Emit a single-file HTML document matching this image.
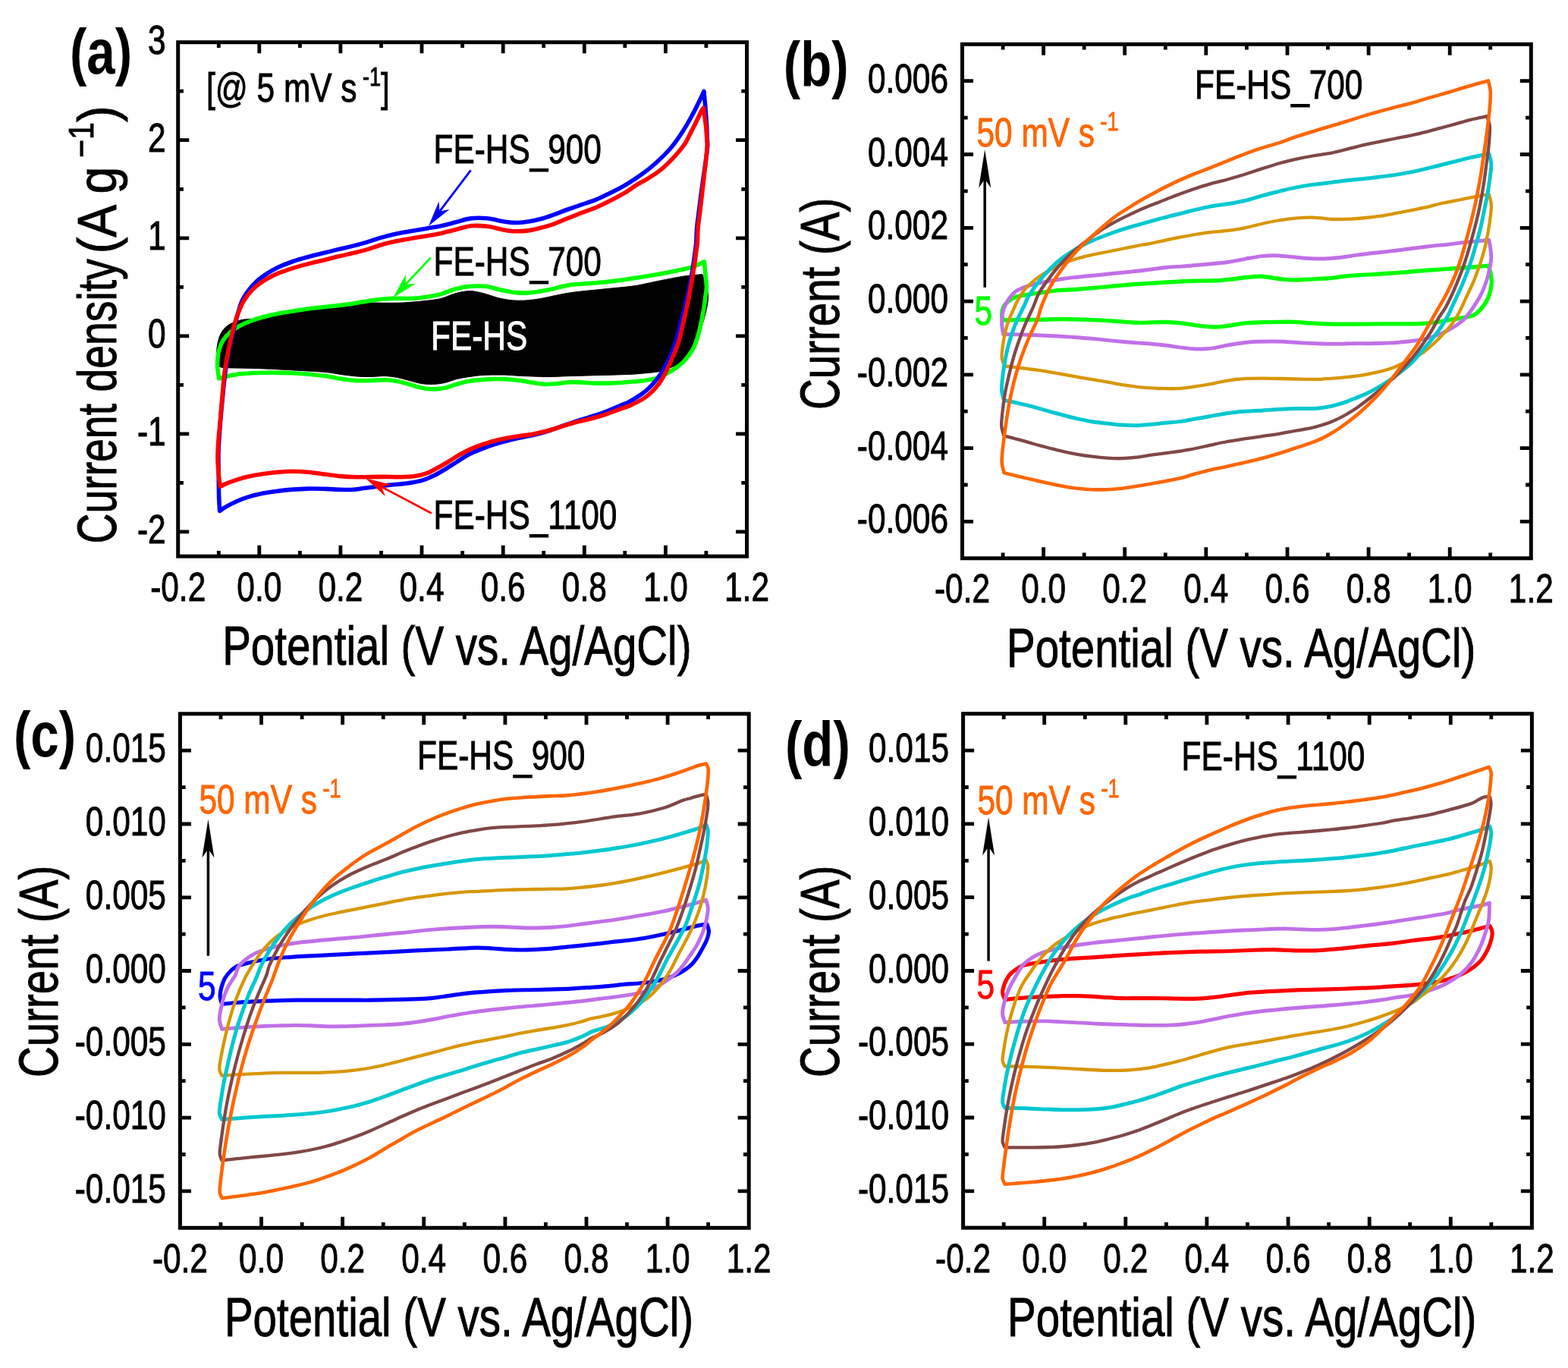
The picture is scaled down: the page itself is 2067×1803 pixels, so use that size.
<!DOCTYPE html>
<html><head><meta charset="utf-8"><title>CV curves</title>
<style>html,body{margin:0;padding:0;background:#fff}svg{display:block}text{font-family:'Liberation Sans', Arial, sans-serif}</style>
</head><body>
<svg xmlns="http://www.w3.org/2000/svg" width="2067" height="1803" viewBox="0 0 2067 1803">
<rect width="2067" height="1803" fill="#fff"/>
<rect x="234.7" y="55.7" width="749.8" height="677.5" fill="none" stroke="#000" stroke-width="5"/>
<path d="M341.8 733.2v-14.5M341.8 55.7v14.5M448.9 733.2v-14.5M448.9 55.7v14.5M556.0 733.2v-14.5M556.0 55.7v14.5M663.2 733.2v-14.5M663.2 55.7v14.5M770.3 733.2v-14.5M770.3 55.7v14.5M877.4 733.2v-14.5M877.4 55.7v14.5M288.3 733.2v-7.2M288.3 55.7v7.2M395.4 733.2v-7.2M395.4 55.7v7.2M502.5 733.2v-7.2M502.5 55.7v7.2M609.6 733.2v-7.2M609.6 55.7v7.2M716.7 733.2v-7.2M716.7 55.7v7.2M823.8 733.2v-7.2M823.8 55.7v7.2M930.9 733.2v-7.2M930.9 55.7v7.2M234.7 184.7h14.5M984.5 184.7h-14.5M234.7 313.8h14.5M984.5 313.8h-14.5M234.7 442.8h14.5M984.5 442.8h-14.5M234.7 571.9h14.5M984.5 571.9h-14.5M234.7 700.9h14.5M984.5 700.9h-14.5M234.7 120.2h7.2M984.5 120.2h-7.2M234.7 249.3h7.2M984.5 249.3h-7.2M234.7 378.3h7.2M984.5 378.3h-7.2M234.7 507.4h7.2M984.5 507.4h-7.2M234.7 636.4h7.2M984.5 636.4h-7.2" stroke="#000" stroke-width="4.8" fill="none"/>
<text transform="translate(234.7 791.7) scale(0.7880 1)" font-size="53.8" text-anchor="middle" fill="#000" stroke="#000" stroke-width="0.90" vector-effect="non-scaling-stroke">-0.2</text>
<text transform="translate(341.8 791.7) scale(0.7880 1)" font-size="53.8" text-anchor="middle" fill="#000" stroke="#000" stroke-width="0.90" vector-effect="non-scaling-stroke">0.0</text>
<text transform="translate(448.9 791.7) scale(0.7880 1)" font-size="53.8" text-anchor="middle" fill="#000" stroke="#000" stroke-width="0.90" vector-effect="non-scaling-stroke">0.2</text>
<text transform="translate(556.0 791.7) scale(0.7880 1)" font-size="53.8" text-anchor="middle" fill="#000" stroke="#000" stroke-width="0.90" vector-effect="non-scaling-stroke">0.4</text>
<text transform="translate(663.2 791.7) scale(0.7880 1)" font-size="53.8" text-anchor="middle" fill="#000" stroke="#000" stroke-width="0.90" vector-effect="non-scaling-stroke">0.6</text>
<text transform="translate(770.3 791.7) scale(0.7880 1)" font-size="53.8" text-anchor="middle" fill="#000" stroke="#000" stroke-width="0.90" vector-effect="non-scaling-stroke">0.8</text>
<text transform="translate(877.4 791.7) scale(0.7880 1)" font-size="53.8" text-anchor="middle" fill="#000" stroke="#000" stroke-width="0.90" vector-effect="non-scaling-stroke">1.0</text>
<text transform="translate(984.5 791.7) scale(0.7880 1)" font-size="53.8" text-anchor="middle" fill="#000" stroke="#000" stroke-width="0.90" vector-effect="non-scaling-stroke">1.2</text>
<text transform="translate(218.7 199.7) scale(0.7880 1)" font-size="53.8" text-anchor="end" fill="#000" stroke="#000" stroke-width="0.90" vector-effect="non-scaling-stroke">2</text>
<text transform="translate(218.7 328.8) scale(0.7880 1)" font-size="53.8" text-anchor="end" fill="#000" stroke="#000" stroke-width="0.90" vector-effect="non-scaling-stroke">1</text>
<text transform="translate(218.7 457.8) scale(0.7880 1)" font-size="53.8" text-anchor="end" fill="#000" stroke="#000" stroke-width="0.90" vector-effect="non-scaling-stroke">0</text>
<text transform="translate(218.7 586.9) scale(0.7880 1)" font-size="53.8" text-anchor="end" fill="#000" stroke="#000" stroke-width="0.90" vector-effect="non-scaling-stroke">-1</text>
<text transform="translate(218.7 715.9) scale(0.7880 1)" font-size="53.8" text-anchor="end" fill="#000" stroke="#000" stroke-width="0.90" vector-effect="non-scaling-stroke">-2</text>
<text transform="translate(293.2 876.0) scale(0.7790 1)" font-size="72.5" text-anchor="start" fill="#000" stroke="#000" stroke-width="0.90" vector-effect="non-scaling-stroke">Potential (V vs. Ag/AgCl)</text>
<text transform="translate(92.0 97.3) scale(0.8000 1)" font-size="84.0" text-anchor="start" fill="#000" font-weight="bold">(a)</text>
<text transform="translate(218.7 70.7) scale(0.7880 1)" font-size="53.8" text-anchor="end" fill="#000" stroke="#000" stroke-width="0.90" vector-effect="non-scaling-stroke">3</text>
<path d="M288.0 482.2C288.0 482.2 286.4 476.4 286.1 473.4C285.7 470.0 285.3 465.6 285.7 461.7C286.1 457.2 287.1 450.7 288.6 446.1C289.9 441.9 291.8 437.6 294.5 434.4C297.1 431.1 300.6 428.5 304.2 426.6C308.1 424.4 313.3 422.7 317.9 421.7C322.4 420.7 327.0 420.7 331.6 420.3C336.4 419.9 342.0 420.1 347.2 419.3C353.0 418.4 360.2 416.1 366.7 414.8C373.2 413.5 379.7 412.6 386.2 411.5C392.8 410.5 399.3 409.5 405.8 408.6C412.3 407.7 418.8 407.0 425.3 406.2C431.8 405.5 438.3 405.0 444.8 404.3C451.4 403.5 457.9 402.6 464.4 401.8C470.9 400.9 477.4 399.6 483.9 399.2C490.4 398.8 496.9 399.2 503.4 399.2C509.9 399.2 516.5 399.4 523.0 399.2C529.5 399.1 536.0 398.7 542.5 398.2C549.0 397.8 555.5 397.1 562.0 396.3C568.5 395.5 575.2 395.0 581.6 393.4C588.1 391.7 594.6 388.2 601.1 386.5C607.5 384.9 614.0 383.4 620.6 383.6C627.4 383.8 635.9 386.4 641.7 387.9C646.4 389.0 650.8 391.1 655.4 392.3C659.9 393.5 664.5 394.4 669.1 395.1C673.6 395.7 678.2 396.2 682.7 396.2C687.3 396.3 691.9 396.1 696.4 395.7C701.3 395.2 706.9 394.6 712.0 393.7C717.2 392.8 722.4 391.5 727.7 390.4C733.5 389.2 740.7 387.6 747.2 386.5C753.7 385.4 760.2 384.7 766.7 383.9C773.2 383.2 779.7 382.6 786.2 382.0C792.8 381.3 799.3 380.7 805.8 380.0C812.3 379.4 819.6 378.7 825.3 378.1C830.2 377.5 835.1 377.1 839.9 376.2C847.5 374.8 860.7 371.7 871.2 369.7C881.6 367.6 893.4 365.3 902.5 363.9C910.3 362.8 925.9 361.6 925.9 361.6C925.9 361.6 928.7 368.8 929.8 372.5C931.0 376.3 932.4 380.3 933.0 384.2C933.5 388.1 933.7 392.0 933.3 395.9C932.9 400.4 931.6 406.2 930.5 411.3C929.3 416.4 927.7 421.5 926.3 426.6C924.5 432.9 921.7 443.8 919.9 449.1C918.7 452.5 917.2 455.7 915.2 458.6C912.4 462.5 907.3 468.5 903.4 472.3C899.9 475.6 895.6 478.8 891.7 481.1C888.1 483.2 883.9 484.5 880.0 485.9C876.1 487.4 872.3 489.1 868.3 489.8C862.4 490.9 851.2 491.8 844.8 492.4C839.9 492.8 834.9 493.2 829.9 493.4C819.4 493.8 796.1 494.4 781.5 494.8C768.5 495.2 752.2 495.6 742.5 495.9C736.0 496.1 729.5 496.5 723.0 496.6C716.5 496.6 709.9 496.3 703.4 496.1C696.9 495.9 690.4 495.6 683.9 495.3C677.4 495.0 670.2 494.3 664.4 494.1C659.2 494.0 654.0 494.0 648.8 494.1C643.5 494.2 638.3 494.3 633.1 494.7C627.9 495.1 622.7 495.9 617.5 496.7C612.3 497.5 607.0 498.3 601.9 499.6C596.7 500.9 591.5 503.4 586.2 504.5C581.1 505.6 575.8 506.3 570.6 506.4C565.4 506.6 560.2 506.3 555.0 505.5C549.8 504.6 544.6 502.8 539.4 501.5C534.2 500.2 529.0 498.6 523.8 497.6C518.6 496.6 513.4 495.8 508.1 495.6C502.3 495.4 495.1 496.5 488.6 496.5C482.1 496.6 475.6 496.4 469.1 495.9C462.6 495.4 456.0 494.4 449.5 493.6C443.0 492.7 436.6 491.2 430.0 490.6C419.5 489.7 400.1 488.7 386.2 487.9C373.2 487.2 360.2 486.4 347.2 485.9C334.2 485.4 317.2 485.2 308.1 485.0C302.9 484.8 295.9 484.8 292.5 484.4C290.9 484.2 288.0 482.2 288.0 482.2Z" fill="#000" stroke="#000" stroke-width="1"/>
<path d="M288.6 498.8C288.6 498.8 287.4 490.7 287.0 487.1C286.7 483.9 286.4 480.6 286.6 477.3C286.9 473.1 287.3 466.6 288.6 461.7C289.9 456.9 291.8 452.1 294.5 448.0C297.1 444.0 300.6 440.4 304.2 437.3C307.8 434.2 311.8 431.7 315.9 429.5C320.5 427.1 326.4 424.6 331.6 422.7C336.7 420.7 341.9 419.2 347.2 417.8C353.0 416.2 360.2 414.6 366.7 413.3C373.2 412.0 379.7 411.0 386.2 410.0C392.8 408.9 399.3 407.9 405.8 407.0C412.3 406.2 418.8 405.4 425.3 404.7C431.8 404.0 438.3 403.5 444.8 402.7C451.4 402.0 457.9 401.2 464.4 400.2C470.9 399.2 477.4 397.9 483.9 396.9C490.4 395.9 497.6 394.9 503.4 394.3C508.6 393.8 513.8 393.5 519.1 393.4C525.6 393.2 535.3 393.7 542.5 393.4C549.0 393.1 555.6 392.4 562.0 391.4C568.5 390.4 575.2 389.3 581.6 387.5C588.1 385.7 594.6 382.4 601.1 380.7C607.5 379.0 614.0 377.9 620.6 377.3C627.4 376.8 635.9 376.9 641.7 377.5C646.4 378.0 650.8 379.9 655.4 381.0C659.9 382.1 664.5 383.1 669.1 383.9C673.6 384.8 678.2 385.6 682.7 385.9C687.3 386.2 691.9 386.2 696.4 385.9C701.3 385.6 706.8 384.8 712.0 383.9C717.2 383.1 723.1 382.0 727.7 381.0C731.6 380.2 735.5 379.0 739.4 378.1C743.3 377.2 747.1 376.1 751.1 375.5C755.7 374.9 761.5 374.6 766.7 374.2C772.6 373.7 779.7 373.4 786.2 372.8C792.8 372.3 799.3 371.6 805.8 370.9C812.3 370.1 819.6 369.1 825.3 368.3C830.2 367.6 835.0 366.9 839.8 366.1C844.8 365.4 850.2 364.5 855.5 363.6C860.7 362.7 865.9 361.8 871.1 360.8C876.4 359.9 881.6 358.8 886.8 357.8C892.1 356.7 898.6 355.4 902.5 354.5C905.1 353.9 907.7 353.3 910.3 352.6C912.9 351.8 915.6 350.9 918.1 349.8C921.1 348.5 928.3 344.8 928.3 344.8C928.3 344.8 929.1 352.9 929.5 356.9C929.8 360.8 930.3 364.9 930.6 368.6C930.9 372.0 931.5 375.5 931.4 378.8C931.3 381.9 930.7 385.0 930.3 388.1C929.8 392.3 929.1 398.7 928.3 403.9C927.5 409.2 926.4 414.5 925.4 419.8C924.3 425.1 923.3 430.5 922.0 435.7C920.7 440.8 919.0 446.6 917.5 450.8C916.4 454.1 915.0 457.5 913.2 460.5C910.9 464.5 906.7 470.5 903.4 474.2C900.6 477.5 896.9 480.5 893.7 483.0C890.6 485.4 887.2 487.5 883.9 489.5C880.7 491.4 877.4 493.2 874.1 494.7C871.0 496.2 867.8 497.8 864.4 498.6C859.5 499.9 850.6 501.4 844.8 502.1C839.9 502.8 834.1 502.9 830.0 503.2C826.9 503.4 823.8 503.9 820.7 504.2C815.9 504.5 807.6 504.9 801.1 505.1C794.6 505.2 787.5 505.2 781.6 505.0C776.4 504.8 771.2 504.1 766.0 503.9C760.8 503.7 755.5 503.5 750.3 503.8C745.1 504.1 739.9 505.2 734.7 505.6C729.5 506.1 724.3 506.7 719.1 506.5C713.9 506.3 708.6 505.3 703.4 504.5C697.6 503.6 690.4 502.0 683.9 501.2C677.4 500.4 670.2 499.9 664.4 499.6C659.2 499.4 654.0 499.4 648.8 499.6C643.5 499.8 638.3 500.1 633.1 500.6C627.9 501.1 622.7 501.6 617.5 502.5C612.3 503.5 607.0 505.0 601.9 506.4C596.7 507.9 591.5 510.3 586.2 511.3C581.1 512.4 575.8 513.0 570.6 512.9C565.4 512.8 560.1 512.0 555.0 510.9C549.8 509.9 544.6 507.9 539.4 506.5C534.2 505.1 529.0 503.5 523.7 502.6C518.6 501.6 513.4 500.8 508.1 500.6C502.3 500.5 495.1 501.4 488.6 501.6C482.1 501.8 475.6 502.0 469.1 501.6C462.5 501.2 456.0 500.3 449.5 499.3C443.0 498.3 436.6 496.5 430.0 495.8C419.4 494.5 400.1 492.6 386.2 491.8C373.2 491.1 358.6 491.0 347.2 491.2C337.4 491.4 325.7 492.0 317.9 492.8C312.0 493.3 305.2 494.7 300.3 495.7C296.4 496.5 288.6 498.8 288.6 498.8Z" fill="none" stroke="#00ff00" stroke-width="5.6" stroke-linejoin="round"/>
<path d="M289.6 673.4C289.6 673.4 288.8 660.4 288.6 653.9C288.4 645.8 288.3 634.4 288.2 624.6C288.1 614.8 287.7 605.1 288.0 595.3C288.4 583.9 289.5 569.3 290.5 556.2C291.6 543.2 292.9 528.6 294.1 517.2C295.0 507.4 296.1 497.0 297.4 487.9C298.5 479.4 299.8 470.9 301.5 462.5C303.4 452.9 306.4 441.0 309.1 430.5C311.8 420.0 314.8 407.2 317.9 399.2C320.2 393.2 324.1 387.5 327.7 382.6C331.1 378.0 335.5 373.5 339.4 369.9C343.0 366.6 347.0 363.8 351.1 361.1C355.7 358.2 361.3 354.9 366.7 352.3C372.6 349.6 379.7 346.8 386.2 344.5C392.7 342.3 399.3 340.5 405.8 338.7C412.3 336.9 418.8 335.4 425.3 333.8C431.8 332.2 438.3 330.5 444.8 328.9C451.3 327.3 457.9 326.0 464.4 324.4C470.9 322.8 477.4 321.0 483.9 319.1C490.4 317.2 496.9 314.7 503.4 312.9C509.9 311.1 516.5 309.4 523.0 308.0C529.4 306.6 536.0 305.6 542.5 304.5C549.0 303.4 555.5 302.3 562.0 301.2C568.5 300.0 575.1 299.0 581.6 297.7C588.1 296.3 594.6 294.4 601.1 292.8C607.6 291.1 614.0 288.7 620.6 287.9C627.4 287.0 635.9 287.3 641.7 287.7C646.3 288.0 650.8 289.3 655.4 290.2C659.9 291.0 664.5 292.2 669.1 292.7C673.6 293.3 678.2 293.6 682.7 293.5C687.3 293.4 691.9 292.9 696.4 292.1C701.3 291.4 706.9 290.2 712.0 288.8C717.2 287.5 722.5 285.7 727.7 283.9C733.5 281.9 740.7 278.9 747.2 276.5C753.7 274.2 760.2 272.0 766.7 269.7C773.2 267.4 779.9 265.5 786.2 262.9C792.8 260.2 799.3 256.9 805.8 253.7C812.3 250.4 819.0 247.1 825.3 243.3C831.8 239.5 838.6 235.2 844.8 230.6C851.4 225.9 858.2 220.6 864.4 215.0C870.9 209.1 878.0 202.3 883.9 195.5C889.7 188.7 894.7 181.4 899.5 174.0C904.4 166.5 909.3 157.7 913.2 150.5C916.7 144.2 920.5 136.1 923.0 131.0C924.7 127.5 927.9 120.3 927.9 120.3C927.9 120.3 929.2 133.9 929.8 140.8C930.5 148.8 931.4 161.6 931.8 168.1C932.0 172.1 931.9 176.0 932.1 179.9C932.2 183.8 932.9 187.7 932.7 191.6C932.5 196.9 931.4 204.7 930.5 211.2C929.6 218.4 928.2 226.8 927.1 234.7C926.0 242.5 924.9 250.3 923.9 258.1C922.9 265.9 921.8 274.4 920.9 281.6C920.1 288.1 919.1 294.7 918.6 301.1C918.1 307.3 918.1 315.0 917.8 319.8C917.6 323.0 917.1 326.3 916.6 329.5C916.0 334.4 914.9 342.6 913.9 349.1C912.9 355.6 911.9 362.1 910.7 368.6C909.5 375.0 908.1 381.5 906.7 387.9C905.3 394.4 903.9 400.8 902.2 407.2C900.6 413.7 898.7 420.1 897.0 426.6C895.2 433.6 893.4 442.3 891.3 449.3C889.2 455.8 886.7 462.1 883.9 468.4C881.1 474.8 877.4 482.4 874.1 487.9C871.3 492.7 867.6 497.5 864.4 501.6C861.4 505.3 857.9 509.2 854.6 512.3C851.6 515.2 848.3 517.8 844.8 520.1C840.5 523.0 833.0 527.6 828.7 529.9C825.7 531.5 822.5 532.5 819.3 533.8C814.6 535.9 806.4 539.5 799.9 542.0C793.6 544.4 787.1 546.6 780.6 548.7C774.2 550.8 767.8 552.7 761.4 554.7C754.9 556.8 748.5 559.0 742.1 561.2C735.7 563.4 729.2 565.9 722.8 568.0C716.4 570.0 709.9 571.8 703.4 573.4C697.0 574.9 690.4 575.9 683.9 577.3C677.4 578.8 670.2 580.5 664.4 582.0C659.1 583.4 653.9 584.8 648.8 586.5C643.5 588.2 638.3 590.3 633.1 592.4C627.9 594.5 622.5 596.6 617.5 599.2C612.3 602.0 607.1 605.7 601.9 609.0C596.7 612.2 591.1 615.8 586.2 618.8C581.7 621.5 577.1 624.3 572.6 626.6C568.1 628.8 563.6 630.9 558.9 632.4C554.0 634.0 548.5 635.0 543.3 636.0C538.1 636.9 532.9 637.4 527.7 638.0C522.5 638.5 517.2 638.8 512.0 639.4C506.8 639.9 501.6 640.7 496.4 641.3C491.2 642.0 486.0 642.7 480.8 643.3C475.6 644.0 470.4 645.0 465.1 645.3C459.9 645.7 454.7 645.5 449.5 645.3C443.7 645.2 436.5 644.6 430.0 644.4C422.7 644.2 413.1 644.0 405.8 644.1C399.3 644.3 392.8 644.6 386.2 645.1C379.7 645.6 373.2 646.3 366.7 647.1C360.2 647.9 353.6 648.7 347.2 650.0C340.7 651.3 333.5 653.1 327.7 654.9C322.3 656.5 316.9 658.6 312.0 660.7C307.4 662.8 302.1 665.5 298.4 667.6C295.3 669.3 289.6 673.4 289.6 673.4Z" fill="none" stroke="#0000ff" stroke-width="5.6" stroke-linejoin="round"/>
<path d="M290.2 641.2C290.2 641.2 288.7 630.2 288.2 624.6C287.7 618.6 287.1 611.6 287.0 605.1C286.9 598.6 287.2 592.0 287.6 585.5C288.1 577.4 289.3 566.0 290.2 556.2C291.1 544.9 292.4 528.6 293.5 517.2C294.4 507.4 294.8 497.6 296.4 487.9C298.8 473.4 304.5 444.6 308.1 430.5C310.5 421.1 314.6 410.3 317.9 403.1C320.4 397.5 324.1 392.1 327.7 387.5C331.1 383.2 335.5 379.0 339.4 375.8C343.0 372.8 347.0 370.3 351.1 368.0C355.7 365.4 361.3 362.4 366.7 360.2C372.6 357.7 379.7 355.4 386.2 353.3C392.7 351.3 399.3 349.5 405.8 347.9C412.3 346.2 418.8 344.8 425.3 343.2C431.8 341.6 438.3 339.8 444.8 338.3C451.3 336.7 457.9 335.3 464.4 333.8C470.9 332.2 477.5 330.8 483.9 328.9C490.4 327.0 496.9 324.3 503.4 322.5C509.9 320.6 516.5 319.1 523.0 317.8C529.4 316.4 536.0 315.4 542.5 314.3C549.0 313.1 555.5 312.1 562.0 310.9C568.5 309.8 575.1 308.8 581.6 307.4C588.1 306.0 594.6 304.2 601.1 302.5C607.6 300.9 614.0 298.4 620.6 297.7C627.4 296.9 635.9 297.7 641.7 298.2C646.3 298.6 650.8 300.0 655.4 300.9C659.9 301.9 664.5 303.2 669.1 303.9C673.6 304.5 678.2 304.8 682.7 304.8C687.3 304.8 691.9 304.5 696.4 303.9C701.3 303.2 706.9 301.8 712.0 300.5C717.2 299.2 722.5 297.8 727.7 296.1C733.5 294.0 740.7 290.8 747.2 288.2C753.7 285.6 760.2 282.9 766.7 280.4C773.2 277.9 779.9 275.9 786.2 273.2C792.8 270.4 799.4 267.1 805.8 263.8C812.3 260.5 819.7 256.4 825.3 253.1C830.1 250.2 834.5 246.7 839.3 243.7C844.2 240.7 850.0 238.0 855.1 234.7C860.5 231.4 866.1 227.7 871.2 223.6C876.5 219.3 882.0 214.1 886.9 208.9C892.1 203.3 899.0 195.0 902.5 190.2C904.8 187.0 906.1 183.4 907.9 180.0C910.1 175.7 913.4 169.4 915.7 164.8C917.7 160.8 920.0 155.9 921.5 152.7C922.7 150.3 924.0 147.4 925.0 145.7C925.6 144.5 927.3 142.3 927.3 142.3C927.3 142.3 930.1 161.9 930.8 168.1C931.2 172.0 931.3 176.0 931.6 179.9C931.8 183.8 932.4 187.7 932.3 191.7C932.1 196.9 931.2 204.7 930.5 211.2C929.8 218.4 928.8 226.8 927.9 234.7C927.0 242.5 926.1 250.3 925.2 258.1C924.3 265.9 923.3 274.4 922.4 281.6C921.6 288.1 920.6 294.7 920.1 301.1C919.6 307.3 919.6 315.0 919.3 319.8C919.1 323.0 918.6 326.3 918.1 329.5C917.5 334.4 916.4 342.6 915.4 349.1C914.4 355.6 913.4 362.1 912.3 368.6C911.2 375.1 910.0 381.6 908.8 388.1C907.6 394.7 906.3 401.2 904.9 407.7C903.5 414.2 901.8 420.7 900.3 427.2C898.6 434.3 896.9 443.2 894.8 450.1C893.0 456.3 890.4 462.3 887.8 468.4C885.0 475.0 881.0 484.0 878.0 489.8C875.7 494.5 873.2 499.3 870.2 503.5C867.3 507.7 864.0 511.7 860.5 515.2C856.9 518.8 853.0 522.3 848.8 525.0C843.6 528.3 834.4 532.7 829.7 534.9C826.7 536.3 823.4 537.1 820.3 538.2C815.5 539.9 807.3 543.1 800.8 545.3C794.4 547.5 787.8 549.6 781.3 551.3C774.9 553.1 768.3 554.1 761.9 555.8C755.4 557.5 748.9 559.5 742.4 561.4C735.9 563.4 729.4 565.7 722.9 567.5C716.5 569.2 709.9 570.6 703.4 571.9C697.0 573.1 689.8 573.9 683.9 574.8C678.7 575.6 673.5 576.4 668.3 577.3C663.1 578.3 657.8 579.3 652.7 580.7C647.4 582.0 642.2 583.8 637.0 585.5C631.8 587.3 626.5 589.2 621.4 591.4C616.2 593.7 610.9 596.4 605.8 599.2C600.6 602.1 595.0 606.1 590.2 609.0C585.7 611.7 581.0 614.4 576.5 616.8C572.0 619.2 567.6 621.9 562.8 623.6C557.9 625.4 552.5 626.8 547.2 627.6C541.3 628.4 534.1 628.6 527.6 628.7C521.1 628.8 514.6 628.5 508.1 628.4C501.6 628.4 495.0 628.5 488.5 628.6C482.0 628.6 475.5 628.9 469.0 628.7C462.5 628.5 455.9 628.2 449.4 627.6C442.9 627.0 436.4 626.1 429.9 625.3C422.6 624.4 413.1 622.9 405.8 622.3C399.3 621.7 392.8 621.3 386.2 621.3C379.7 621.3 373.2 621.7 366.7 622.3C360.2 622.8 353.7 623.6 347.2 624.6C340.7 625.6 333.5 626.8 327.7 628.1C322.4 629.3 316.9 630.9 312.0 632.4C307.4 633.9 302.0 635.8 298.4 637.3C295.5 638.4 290.2 641.2 290.2 641.2Z" fill="none" stroke="#ff0000" stroke-width="5.6" stroke-linejoin="round"/>
<path d="M620.6 224.4L579.5 278.6" stroke="#0000ff" stroke-width="2.8" fill="none"/>
<path d="M565.0 297.7L592.5 276.0L579.5 278.6L578.5 265.4Z" fill="#0000ff"/>
<path d="M567.9 339.6L534.6 374.9" stroke="#00ff00" stroke-width="2.8" fill="none"/>
<path d="M518.1 392.4L547.7 373.8L534.6 374.9L535.0 361.7Z" fill="#00ff00"/>
<path d="M568.9 676.4L503.1 641.7" stroke="#ff0000" stroke-width="2.8" fill="none"/>
<path d="M481.9 630.5L507.8 654.1L503.1 641.7L516.0 638.6Z" fill="#ff0000"/>
<text transform="translate(571.5 215.0) scale(0.7880 1)" font-size="53.8" text-anchor="start" fill="#000" stroke="#000" stroke-width="0.90" vector-effect="non-scaling-stroke">FE-HS_900</text>
<text transform="translate(571.5 362.5) scale(0.7880 1)" font-size="53.8" text-anchor="start" fill="#000" stroke="#000" stroke-width="0.90" vector-effect="non-scaling-stroke">FE-HS_700</text>
<text transform="translate(568.0 460.5) scale(0.7880 1)" font-size="53.8" text-anchor="start" fill="#fff" stroke="#fff" stroke-width="0.90" vector-effect="non-scaling-stroke">FE-HS</text>
<text transform="translate(571.5 696.9) scale(0.7880 1)" font-size="53.8" text-anchor="start" fill="#000" stroke="#000" stroke-width="0.90" vector-effect="non-scaling-stroke">FE-HS_1100</text>
<text transform="translate(272.0 134.0) scale(0.7880 1)" font-size="53.8" text-anchor="start" fill="#000" stroke="#000" stroke-width="0.90" vector-effect="non-scaling-stroke">[@ 5 mV s<tspan font-size="34.4" dy="-21.5"> -1</tspan><tspan dy="21.5">]</tspan></text>
<text transform="translate(153.3 716.5) rotate(-90) scale(0.7634 1)" font-size="72.5" text-anchor="start" fill="#000" stroke="#000" stroke-width="0.90" vector-effect="non-scaling-stroke">Current density</text>
<text transform="translate(153.3 334.3) rotate(-90) scale(0.8900 1)" font-size="72.5" text-anchor="start" fill="#000" stroke="#000" stroke-width="0.90" vector-effect="non-scaling-stroke">(A g<tspan font-size="46.4" dy="-30.0"> −1</tspan><tspan dy="30.0">)</tspan></text>
<rect x="1268.5" y="58.3" width="749.8" height="677.5" fill="none" stroke="#000" stroke-width="5"/>
<path d="M1375.6 735.8v-14.5M1375.6 58.3v14.5M1482.7 735.8v-14.5M1482.7 58.3v14.5M1589.8 735.8v-14.5M1589.8 58.3v14.5M1697.0 735.8v-14.5M1697.0 58.3v14.5M1804.1 735.8v-14.5M1804.1 58.3v14.5M1911.2 735.8v-14.5M1911.2 58.3v14.5M1322.1 735.8v-7.2M1322.1 58.3v7.2M1429.2 735.8v-7.2M1429.2 58.3v7.2M1536.3 735.8v-7.2M1536.3 58.3v7.2M1643.4 735.8v-7.2M1643.4 58.3v7.2M1750.5 735.8v-7.2M1750.5 58.3v7.2M1857.6 735.8v-7.2M1857.6 58.3v7.2M1964.7 735.8v-7.2M1964.7 58.3v7.2M1268.5 106.7h14.5M2018.3 106.7h-14.5M1268.5 203.5h14.5M2018.3 203.5h-14.5M1268.5 300.3h14.5M2018.3 300.3h-14.5M1268.5 397.1h14.5M2018.3 397.1h-14.5M1268.5 493.8h14.5M2018.3 493.8h-14.5M1268.5 590.6h14.5M2018.3 590.6h-14.5M1268.5 687.4h14.5M2018.3 687.4h-14.5M1268.5 155.1h7.2M2018.3 155.1h-7.2M1268.5 251.9h7.2M2018.3 251.9h-7.2M1268.5 348.7h7.2M2018.3 348.7h-7.2M1268.5 445.4h7.2M2018.3 445.4h-7.2M1268.5 542.2h7.2M2018.3 542.2h-7.2M1268.5 639.0h7.2M2018.3 639.0h-7.2" stroke="#000" stroke-width="4.8" fill="none"/>
<text transform="translate(1268.5 794.3) scale(0.7880 1)" font-size="53.8" text-anchor="middle" fill="#000" stroke="#000" stroke-width="0.90" vector-effect="non-scaling-stroke">-0.2</text>
<text transform="translate(1375.6 794.3) scale(0.7880 1)" font-size="53.8" text-anchor="middle" fill="#000" stroke="#000" stroke-width="0.90" vector-effect="non-scaling-stroke">0.0</text>
<text transform="translate(1482.7 794.3) scale(0.7880 1)" font-size="53.8" text-anchor="middle" fill="#000" stroke="#000" stroke-width="0.90" vector-effect="non-scaling-stroke">0.2</text>
<text transform="translate(1589.8 794.3) scale(0.7880 1)" font-size="53.8" text-anchor="middle" fill="#000" stroke="#000" stroke-width="0.90" vector-effect="non-scaling-stroke">0.4</text>
<text transform="translate(1697.0 794.3) scale(0.7880 1)" font-size="53.8" text-anchor="middle" fill="#000" stroke="#000" stroke-width="0.90" vector-effect="non-scaling-stroke">0.6</text>
<text transform="translate(1804.1 794.3) scale(0.7880 1)" font-size="53.8" text-anchor="middle" fill="#000" stroke="#000" stroke-width="0.90" vector-effect="non-scaling-stroke">0.8</text>
<text transform="translate(1911.2 794.3) scale(0.7880 1)" font-size="53.8" text-anchor="middle" fill="#000" stroke="#000" stroke-width="0.90" vector-effect="non-scaling-stroke">1.0</text>
<text transform="translate(2018.3 794.3) scale(0.7880 1)" font-size="53.8" text-anchor="middle" fill="#000" stroke="#000" stroke-width="0.90" vector-effect="non-scaling-stroke">1.2</text>
<text transform="translate(1250.0 121.7) scale(0.7880 1)" font-size="53.8" text-anchor="end" fill="#000" stroke="#000" stroke-width="0.90" vector-effect="non-scaling-stroke">0.006</text>
<text transform="translate(1250.0 218.5) scale(0.7880 1)" font-size="53.8" text-anchor="end" fill="#000" stroke="#000" stroke-width="0.90" vector-effect="non-scaling-stroke">0.004</text>
<text transform="translate(1250.0 315.3) scale(0.7880 1)" font-size="53.8" text-anchor="end" fill="#000" stroke="#000" stroke-width="0.90" vector-effect="non-scaling-stroke">0.002</text>
<text transform="translate(1250.0 412.1) scale(0.7880 1)" font-size="53.8" text-anchor="end" fill="#000" stroke="#000" stroke-width="0.90" vector-effect="non-scaling-stroke">0.000</text>
<text transform="translate(1250.0 508.8) scale(0.7880 1)" font-size="53.8" text-anchor="end" fill="#000" stroke="#000" stroke-width="0.90" vector-effect="non-scaling-stroke">-0.002</text>
<text transform="translate(1250.0 605.6) scale(0.7880 1)" font-size="53.8" text-anchor="end" fill="#000" stroke="#000" stroke-width="0.90" vector-effect="non-scaling-stroke">-0.004</text>
<text transform="translate(1250.0 702.4) scale(0.7880 1)" font-size="53.8" text-anchor="end" fill="#000" stroke="#000" stroke-width="0.90" vector-effect="non-scaling-stroke">-0.006</text>
<text transform="translate(1327.0 878.6) scale(0.7790 1)" font-size="72.5" text-anchor="start" fill="#000" stroke="#000" stroke-width="0.90" vector-effect="non-scaling-stroke">Potential (V vs. Ag/AgCl)</text>
<text transform="translate(1032.8 114.4) scale(0.8000 1)" font-size="84.0" text-anchor="start" fill="#000" font-weight="bold">(b)</text>
<path d="M1322.6 422.0C1322.6 422.0 1320.6 417.5 1320.6 415.2C1320.6 412.4 1321.3 408.3 1322.6 405.4C1323.9 402.5 1326.0 399.7 1328.5 397.6C1331.1 395.3 1334.6 392.9 1338.2 391.7C1343.1 390.1 1351.9 388.6 1357.8 387.6C1362.9 386.7 1368.2 386.4 1373.4 385.7C1378.9 384.9 1385.1 383.7 1391.0 383.1C1398.8 382.4 1410.5 381.9 1420.2 381.2C1431.6 380.3 1446.3 379.0 1459.3 377.9C1472.3 376.7 1485.4 375.5 1498.4 374.5C1511.4 373.6 1524.9 372.7 1537.4 372.0C1549.6 371.3 1564.1 370.5 1573.9 370.2C1581.3 369.9 1588.8 370.3 1596.2 370.0C1603.7 369.8 1611.2 369.3 1618.6 368.6C1626.1 367.9 1633.9 366.6 1641.0 365.8C1647.6 365.1 1655.5 364.2 1661.1 364.2C1665.6 364.2 1670.0 365.2 1674.4 365.8C1679.5 366.5 1685.6 367.5 1691.2 368.1C1696.7 368.6 1702.3 369.0 1707.9 369.0C1714.4 369.0 1722.7 368.3 1730.2 367.9C1737.8 367.5 1747.0 367.1 1753.9 366.5C1759.8 365.9 1765.6 364.8 1771.4 364.2C1777.6 363.5 1784.4 363.0 1791.0 362.6C1797.5 362.2 1804.0 362.0 1810.5 361.6C1817.0 361.2 1823.5 360.7 1830.0 360.3C1836.5 359.8 1843.0 359.4 1849.5 358.9C1856.1 358.4 1862.6 357.9 1869.1 357.3C1875.6 356.8 1882.1 356.3 1888.6 355.8C1895.1 355.3 1901.6 354.9 1908.1 354.4C1914.7 354.0 1921.2 353.5 1927.7 353.0C1934.2 352.6 1941.5 352.0 1947.2 351.5C1952.1 351.1 1961.9 350.1 1961.9 350.1C1961.9 350.1 1964.1 356.2 1964.8 359.3C1965.5 362.8 1966.3 367.1 1966.3 371.0C1966.3 374.9 1965.7 378.9 1964.8 382.7C1963.9 386.6 1962.7 390.8 1960.9 394.5C1958.9 398.4 1956.2 402.7 1953.1 406.2C1949.8 409.8 1946.1 414.2 1941.3 415.9C1933.9 418.6 1916.3 420.5 1908.1 422.0C1902.9 423.0 1897.8 424.2 1892.5 424.9C1887.0 425.7 1880.8 426.2 1874.9 426.5C1868.8 426.8 1861.9 426.8 1855.4 426.9C1846.3 426.9 1832.0 426.8 1820.2 426.9C1807.9 426.9 1791.0 427.2 1781.2 427.3C1774.7 427.3 1766.2 427.3 1761.7 427.3C1759.1 427.3 1756.5 427.2 1754.0 427.1C1748.3 426.9 1735.4 426.3 1727.5 425.9C1720.5 425.5 1713.5 424.7 1706.6 424.4C1699.6 424.2 1692.6 424.3 1685.6 424.4C1678.6 424.4 1671.7 424.4 1664.7 424.7C1657.7 424.9 1649.6 425.2 1643.8 425.6C1639.1 426.0 1634.4 426.8 1629.8 427.5C1625.1 428.2 1620.5 429.3 1615.8 429.9C1611.2 430.5 1606.5 431.0 1601.8 431.0C1597.1 431.1 1592.4 430.5 1587.8 430.1C1583.1 429.6 1578.4 429.0 1573.8 428.4C1568.7 427.7 1562.6 426.5 1557.0 425.9C1550.9 425.3 1543.9 424.7 1537.4 424.5C1530.9 424.4 1524.4 424.8 1517.9 424.9C1511.4 425.1 1504.9 425.5 1498.4 425.3C1491.9 425.1 1485.4 424.4 1478.8 423.9C1472.3 423.5 1465.8 423.0 1459.3 422.6C1452.8 422.2 1446.3 421.9 1439.8 421.6C1433.3 421.3 1426.8 421.2 1420.2 421.0C1413.7 420.9 1407.2 420.6 1400.7 420.6C1394.2 420.6 1387.7 420.9 1381.2 421.0C1374.7 421.1 1368.2 421.3 1361.7 421.4C1355.1 421.5 1348.6 421.5 1342.1 421.6C1335.6 421.7 1322.6 422.0 1322.6 422.0Z" fill="none" stroke="#00ff00" stroke-width="5.4" stroke-linejoin="round"/>
<path d="M1322.6 440.5C1322.6 440.5 1320.8 431.4 1320.6 426.9C1320.5 422.3 1320.7 417.7 1321.6 413.2C1322.6 408.6 1324.1 403.7 1326.5 399.5C1329.3 394.8 1334.3 388.1 1338.2 384.7C1341.5 381.8 1345.9 380.4 1349.9 378.8C1354.5 377.0 1360.4 375.2 1365.6 373.9C1370.7 372.7 1376.0 372.0 1381.2 371.0C1387.0 369.9 1394.2 368.5 1400.7 367.5C1407.2 366.5 1413.7 365.9 1420.2 365.2C1426.8 364.4 1433.3 363.9 1439.8 363.2C1446.3 362.6 1452.8 361.9 1459.3 361.2C1465.8 360.6 1472.3 359.9 1478.8 359.3C1485.4 358.6 1491.9 358.1 1498.4 357.3C1504.9 356.6 1511.4 355.8 1517.9 355.0C1524.4 354.2 1530.9 353.1 1537.4 352.5C1543.9 351.8 1550.9 351.5 1557.0 351.1C1562.6 350.7 1568.3 350.2 1573.9 349.7C1580.5 349.2 1588.8 348.5 1596.3 347.8C1603.7 347.1 1611.2 346.6 1618.6 345.5C1626.1 344.4 1633.5 342.6 1641.0 341.3C1648.4 340.0 1656.8 338.3 1663.3 337.6C1668.8 337.0 1674.4 336.8 1680.0 336.8C1685.6 336.9 1691.2 337.4 1696.8 337.9C1703.3 338.5 1712.5 339.6 1719.0 340.2C1724.6 340.6 1730.2 341.0 1735.7 341.0C1741.5 341.1 1747.9 340.9 1753.9 340.5C1759.8 340.2 1765.6 339.5 1771.4 338.8C1777.6 338.0 1784.4 336.7 1791.0 335.9C1797.5 335.0 1804.0 334.3 1810.5 333.5C1817.0 332.8 1823.5 332.1 1830.0 331.4C1836.5 330.6 1843.0 329.8 1849.5 329.0C1856.1 328.2 1862.6 327.3 1869.1 326.5C1875.6 325.7 1882.1 324.9 1888.6 324.1C1895.1 323.4 1901.6 322.9 1908.1 322.2C1914.7 321.5 1921.2 320.6 1927.7 319.8C1934.2 319.1 1941.3 318.5 1947.2 317.9C1952.4 317.4 1962.8 316.3 1962.8 316.3C1962.8 316.3 1964.3 324.1 1964.8 328.0C1965.3 331.9 1965.9 335.8 1965.8 339.8C1965.6 344.0 1964.7 348.9 1963.8 353.4C1962.8 358.3 1961.5 363.9 1959.9 369.1C1958.3 374.3 1956.4 379.7 1954.0 384.7C1951.6 389.9 1948.5 395.3 1945.2 400.3C1941.5 406.0 1935.8 414.3 1931.6 419.1C1928.2 422.9 1924.0 425.9 1919.9 428.8C1915.6 431.8 1910.7 434.4 1906.2 436.6C1901.8 438.9 1897.1 440.9 1892.5 442.5C1888.1 444.1 1883.5 445.3 1878.8 446.4C1874.0 447.5 1868.5 448.6 1863.2 449.3C1857.4 450.1 1850.2 450.8 1843.7 451.3C1837.2 451.8 1830.7 452.0 1824.2 452.3C1817.6 452.5 1811.1 452.6 1804.6 452.7C1798.1 452.7 1791.6 452.6 1785.1 452.7C1778.6 452.8 1770.7 453.1 1765.6 453.2C1761.7 453.3 1757.8 453.3 1754.0 453.2C1748.8 453.2 1741.0 453.0 1734.5 452.8C1727.7 452.5 1720.5 452.1 1713.5 451.7C1706.6 451.2 1698.4 450.5 1692.6 450.2C1688.0 450.0 1683.3 450.0 1678.6 450.0C1672.8 450.0 1663.5 450.0 1657.7 450.2C1653.1 450.3 1648.4 450.7 1643.8 451.2C1639.1 451.6 1634.4 452.3 1629.8 453.0C1625.2 453.7 1620.5 454.5 1615.9 455.4C1611.2 456.3 1606.5 457.6 1601.9 458.3C1597.3 459.0 1592.6 459.5 1587.9 459.8C1583.3 460.0 1578.6 460.1 1574.0 459.8C1568.8 459.5 1562.6 458.8 1557.0 458.1C1550.9 457.4 1543.9 456.0 1537.4 455.2C1530.9 454.4 1524.4 453.8 1517.9 453.2C1511.4 452.7 1504.9 452.4 1498.4 451.9C1491.9 451.4 1485.3 450.9 1478.8 450.3C1472.3 449.7 1465.8 449.0 1459.3 448.4C1452.8 447.7 1446.3 447.0 1439.8 446.4C1433.3 445.8 1426.8 445.3 1420.2 444.8C1413.7 444.4 1407.2 443.9 1400.7 443.5C1394.2 443.1 1387.7 442.8 1381.2 442.5C1374.7 442.2 1368.2 441.8 1361.7 441.5C1355.1 441.3 1348.6 441.1 1342.1 440.9C1335.6 440.8 1322.6 440.5 1322.6 440.5Z" fill="none" stroke="#c070e8" stroke-width="4.9" stroke-linejoin="round"/>
<path d="M1324.5 482.5C1324.5 482.5 1321.1 475.6 1320.6 471.8C1320.2 467.7 1321.1 462.7 1321.6 458.1C1322.3 452.9 1323.3 446.3 1324.5 440.5C1325.8 434.7 1327.5 428.5 1329.4 423.0C1331.3 417.6 1334.5 411.4 1336.3 407.3C1337.6 404.4 1338.6 401.2 1340.2 398.4C1342.5 394.3 1346.4 387.3 1349.9 382.7C1353.4 378.4 1357.8 374.4 1361.7 371.0C1365.3 367.8 1369.5 364.8 1373.4 362.2C1377.1 359.7 1381.1 357.5 1385.1 355.4C1389.7 352.9 1395.3 349.8 1400.7 347.6C1406.6 345.1 1413.7 342.7 1420.2 340.7C1426.7 338.8 1433.3 337.3 1439.8 335.9C1446.3 334.4 1452.8 333.3 1459.3 332.0C1465.8 330.7 1472.3 329.3 1478.8 328.0C1485.4 326.7 1491.9 325.4 1498.4 324.1C1504.9 322.9 1511.4 321.9 1517.9 320.6C1524.4 319.3 1530.9 317.7 1537.4 316.3C1543.9 315.0 1551.0 313.6 1557.0 312.4C1562.4 311.4 1567.8 310.4 1573.2 309.5C1579.7 308.4 1588.2 307.0 1595.8 306.1C1603.3 305.2 1610.9 304.9 1618.5 303.9C1626.0 302.9 1633.5 301.8 1641.0 300.3C1648.4 298.8 1655.8 296.6 1663.3 295.0C1670.7 293.3 1678.2 291.7 1685.6 290.5C1693.0 289.3 1700.5 288.2 1707.9 287.6C1715.3 286.9 1722.8 286.5 1730.2 286.7C1737.9 286.9 1748.8 288.4 1754.0 288.8C1756.6 288.9 1759.1 289.0 1761.7 289.0C1766.2 289.0 1774.7 288.9 1781.2 288.6C1787.7 288.3 1794.2 287.7 1800.7 287.0C1807.2 286.4 1813.8 285.7 1820.2 284.7C1826.8 283.7 1833.3 282.4 1839.8 281.2C1846.3 279.9 1852.8 278.6 1859.3 277.3C1865.8 276.0 1872.4 274.8 1878.8 273.4C1885.4 271.9 1891.9 269.9 1898.4 268.5C1904.9 267.0 1911.4 265.9 1917.9 264.6C1924.4 263.3 1931.9 261.7 1937.4 260.7C1942.0 259.8 1946.9 258.9 1951.1 258.1C1955.0 257.4 1962.8 256.2 1962.8 256.2C1962.8 256.2 1965.5 264.9 1965.8 269.5C1966.1 274.3 1965.4 279.9 1964.8 285.1C1964.1 290.9 1963.0 298.1 1961.9 304.6C1960.5 311.8 1958.8 320.9 1957.0 328.0C1955.3 334.6 1953.3 341.1 1951.1 347.6C1948.8 354.4 1946.2 362.0 1943.3 369.1C1940.4 376.2 1936.8 383.5 1933.5 390.5C1930.3 397.5 1927.0 405.2 1923.8 411.2C1920.9 416.7 1917.6 422.0 1914.0 426.9C1910.5 431.7 1906.2 436.3 1902.3 440.5C1898.5 444.6 1894.6 448.5 1890.6 452.3C1886.3 456.2 1881.4 460.7 1876.9 464.0C1872.6 467.0 1867.8 469.4 1863.2 471.8C1858.7 474.2 1854.2 476.5 1849.5 478.6C1844.7 480.9 1839.3 483.6 1833.9 485.5C1828.4 487.4 1822.3 489.0 1816.3 490.4C1810.2 491.8 1803.3 493.2 1796.8 494.3C1790.3 495.3 1783.8 496.1 1777.3 496.8C1770.2 497.6 1760.0 498.4 1754.0 498.9C1749.8 499.2 1745.7 499.6 1741.5 499.8C1737.0 499.9 1732.2 500.0 1727.5 499.9C1721.7 499.9 1713.5 499.6 1706.6 499.5C1699.6 499.3 1692.6 499.2 1685.6 499.0C1678.6 498.9 1671.7 498.6 1664.7 498.6C1657.7 498.6 1649.6 498.6 1643.8 498.9C1639.1 499.1 1634.4 499.5 1629.8 500.0C1625.2 500.5 1620.5 501.3 1615.9 502.1C1611.2 502.9 1606.5 503.9 1601.9 504.8C1597.2 505.7 1592.6 506.7 1587.9 507.5C1583.3 508.3 1578.6 509.0 1574.0 509.6C1568.8 510.3 1562.7 511.4 1557.0 511.8C1550.9 512.3 1543.9 512.3 1537.4 512.2C1530.9 512.2 1524.4 511.8 1517.9 511.4C1511.4 511.1 1504.9 510.6 1498.4 509.9C1491.9 509.1 1485.3 508.0 1478.8 507.0C1472.3 505.9 1465.8 504.6 1459.3 503.4C1452.8 502.3 1446.3 501.2 1439.8 500.1C1433.3 499.0 1426.8 497.9 1420.2 496.8C1413.7 495.7 1407.2 494.5 1400.7 493.3C1394.2 492.1 1387.7 490.8 1381.2 489.8C1374.7 488.7 1368.2 487.9 1361.7 487.0C1355.2 486.2 1348.3 485.2 1342.1 484.5C1336.3 483.8 1324.5 482.5 1324.5 482.5Z" fill="none" stroke="#d89600" stroke-width="4.3" stroke-linejoin="round"/>
<path d="M1323.6 527.5C1323.6 527.5 1320.9 519.1 1320.6 514.8C1320.3 509.7 1321.0 503.0 1321.6 497.2C1322.3 491.0 1323.4 484.1 1324.5 477.7C1325.7 471.1 1326.8 464.6 1328.5 458.1C1330.1 451.6 1332.1 445.0 1334.3 438.6C1336.6 432.1 1339.5 424.9 1342.1 419.1C1344.5 413.7 1347.7 408.2 1349.9 403.4C1352.0 399.2 1353.4 394.6 1355.8 390.5C1359.1 385.1 1364.6 377.2 1369.5 371.0C1374.3 364.9 1379.9 358.6 1385.1 353.4C1390.0 348.5 1395.2 343.9 1400.7 339.8C1406.6 335.4 1413.7 330.8 1420.2 327.1C1426.6 323.4 1433.3 320.2 1439.8 317.3C1446.2 314.4 1452.8 311.9 1459.3 309.5C1465.8 307.1 1472.3 304.8 1478.8 302.7C1485.3 300.6 1491.9 298.7 1498.4 296.8C1504.9 294.9 1511.4 293.1 1517.9 291.3C1524.4 289.5 1530.9 287.7 1537.4 286.1C1543.9 284.4 1551.1 282.6 1557.0 281.2C1562.2 279.9 1567.4 278.5 1572.7 277.2C1579.1 275.7 1587.8 273.5 1595.4 272.1C1603.0 270.7 1610.8 270.1 1618.4 268.8C1625.9 267.6 1633.5 266.3 1641.0 264.5C1648.4 262.7 1655.8 260.2 1663.3 258.1C1670.7 256.1 1678.2 254.2 1685.6 252.3C1693.0 250.5 1700.5 248.5 1707.9 247.1C1715.3 245.6 1722.8 244.5 1730.3 243.4C1738.0 242.3 1748.9 241.2 1754.1 240.6C1756.6 240.2 1759.1 239.9 1761.7 239.6C1766.2 239.0 1774.7 237.9 1781.2 237.2C1787.7 236.5 1794.2 236.0 1800.7 235.3C1807.2 234.6 1813.7 233.7 1820.2 232.9C1826.8 232.1 1833.3 231.4 1839.8 230.4C1846.3 229.4 1852.8 228.2 1859.3 226.9C1865.8 225.6 1872.4 224.1 1878.8 222.6C1885.4 221.0 1891.9 219.3 1898.4 217.7C1904.9 216.1 1911.4 214.4 1917.9 212.8C1924.4 211.2 1931.9 209.2 1937.4 207.9C1942.0 206.9 1946.9 205.9 1951.1 205.0C1955.0 204.2 1962.8 202.7 1962.8 202.7C1962.8 202.7 1965.6 211.9 1965.8 216.7C1965.9 222.3 1964.6 229.8 1963.8 236.2C1963.0 242.8 1962.0 249.3 1960.9 255.8C1959.7 262.3 1958.3 268.8 1957.0 275.3C1955.5 282.5 1953.9 291.0 1952.1 298.8C1950.1 306.9 1947.7 315.7 1945.2 324.1C1942.8 332.6 1940.3 341.2 1937.4 349.5C1934.5 358.0 1931.2 366.6 1927.7 374.9C1924.1 383.4 1919.2 393.3 1916.0 400.3C1913.4 405.9 1911.1 411.7 1908.1 417.1C1905.2 422.5 1901.9 427.7 1898.4 432.7C1894.8 437.9 1890.6 443.5 1886.7 448.4C1882.9 453.0 1878.9 457.5 1874.9 462.0C1870.7 466.9 1865.8 473.1 1861.3 477.7C1857.0 481.9 1852.3 485.6 1847.6 489.4C1842.7 493.3 1837.2 497.5 1832.0 501.1C1826.9 504.6 1821.6 507.9 1816.3 510.9C1811.2 513.8 1805.9 516.6 1800.7 519.1C1795.6 521.5 1790.3 523.5 1785.1 525.5C1779.9 527.5 1774.4 529.7 1769.5 531.4C1764.9 532.9 1759.9 534.2 1755.5 535.3C1751.3 536.2 1747.0 537.0 1742.7 537.5C1738.2 538.0 1733.2 538.4 1728.4 538.5C1722.4 538.7 1713.9 538.3 1706.8 538.5C1699.7 538.6 1692.6 539.1 1685.6 539.5C1678.6 539.9 1671.7 540.4 1664.7 540.9C1657.7 541.3 1649.6 541.7 1643.8 542.1C1639.1 542.4 1634.4 542.7 1629.8 543.2C1625.1 543.7 1620.5 544.3 1615.8 545.0C1611.1 545.7 1606.4 546.5 1601.8 547.4C1597.1 548.2 1592.4 549.2 1587.7 550.0C1583.1 550.9 1578.4 551.6 1573.8 552.4C1568.6 553.3 1562.6 554.6 1557.0 555.4C1550.9 556.2 1543.9 556.7 1537.4 557.3C1530.9 558.0 1524.4 558.7 1517.9 559.3C1511.4 559.8 1504.9 560.5 1498.4 560.7C1491.9 560.8 1485.3 560.5 1478.8 560.1C1472.3 559.7 1465.8 558.8 1459.3 558.1C1452.8 557.4 1446.3 556.8 1439.8 555.8C1433.3 554.7 1426.7 553.3 1420.2 551.9C1413.7 550.4 1407.2 548.7 1400.7 547.0C1394.2 545.3 1387.7 543.5 1381.2 541.7C1374.7 539.9 1368.2 538.0 1361.7 536.2C1355.2 534.5 1348.5 532.8 1342.1 531.4C1336.0 529.9 1323.6 527.5 1323.6 527.5Z" fill="none" stroke="#00c8d0" stroke-width="5.0" stroke-linejoin="round"/>
<path d="M1323.6 574.3C1323.6 574.3 1320.5 566.0 1320.2 561.6C1319.9 556.3 1320.9 548.6 1321.6 542.1C1322.3 535.3 1323.3 527.7 1324.5 520.6C1325.8 513.1 1327.6 505.0 1329.4 497.2C1331.2 489.4 1333.2 481.2 1335.3 473.8C1337.3 466.5 1339.7 459.4 1342.1 452.3C1344.7 444.8 1347.7 436.5 1350.9 428.8C1354.2 421.0 1358.6 412.4 1361.7 405.4C1364.4 399.2 1366.3 392.6 1369.5 386.6C1372.7 380.6 1377.0 374.7 1381.2 369.1C1385.7 362.9 1391.6 355.4 1396.8 349.5C1401.7 344.0 1407.0 338.9 1412.4 333.9C1418.0 328.9 1424.0 324.0 1430.0 319.3C1436.2 314.4 1443.0 309.0 1449.5 304.6C1455.8 300.4 1462.6 296.5 1469.1 292.9C1475.5 289.4 1482.1 286.2 1488.6 283.1C1495.1 280.1 1501.6 277.1 1508.1 274.3C1514.6 271.6 1521.2 269.1 1527.7 266.5C1534.2 263.9 1540.6 261.2 1547.2 258.7C1554.7 255.9 1564.6 252.3 1572.6 249.5C1580.2 247.0 1587.7 244.6 1595.4 242.4C1603.0 240.2 1610.8 238.6 1618.4 236.5C1626.0 234.4 1633.5 232.0 1641.0 229.7C1648.4 227.3 1655.8 224.8 1663.3 222.4C1670.7 220.1 1678.2 217.6 1685.6 215.5C1693.0 213.4 1700.5 211.6 1707.9 209.9C1715.3 208.3 1722.8 206.8 1730.3 205.5C1738.0 204.2 1748.8 202.8 1754.0 201.9C1756.6 201.4 1759.1 200.7 1761.7 200.1C1766.2 199.0 1774.7 196.9 1781.2 195.2C1787.7 193.6 1794.2 191.8 1800.7 190.4C1807.2 188.9 1813.7 187.7 1820.2 186.4C1826.8 185.1 1833.3 183.8 1839.8 182.5C1846.3 181.2 1852.8 180.0 1859.3 178.6C1865.8 177.2 1872.4 175.8 1878.8 174.1C1885.4 172.5 1891.9 170.6 1898.4 168.9C1904.9 167.1 1911.4 165.4 1917.9 163.6C1924.4 161.8 1931.9 159.5 1937.4 158.1C1942.0 157.0 1947.4 156.0 1951.1 155.2C1954.0 154.6 1959.9 153.2 1959.9 153.2C1959.9 153.2 1963.4 161.5 1963.8 165.9C1964.3 172.0 1963.5 181.6 1962.8 189.4C1962.0 198.5 1960.2 210.9 1958.9 220.6C1957.7 229.8 1956.5 238.9 1955.0 248.0C1953.4 257.7 1951.4 268.9 1949.2 279.2C1946.9 289.6 1944.2 300.1 1941.3 310.5C1938.4 321.2 1935.2 332.9 1931.6 343.7C1928.1 354.2 1924.1 364.8 1919.9 374.9C1915.7 384.9 1910.1 396.9 1906.2 404.2C1903.4 409.4 1899.5 414.0 1896.4 419.1C1893.2 424.5 1890.2 430.9 1886.7 436.6C1883.1 442.5 1878.8 448.7 1874.9 454.2C1871.2 459.5 1867.3 464.8 1863.2 469.8C1859.0 475.1 1854.1 480.6 1849.5 485.5C1845.1 490.2 1840.6 494.7 1835.9 499.1C1831.0 503.7 1825.5 508.4 1820.2 512.8C1815.1 517.1 1809.8 521.4 1804.6 525.5C1799.5 529.5 1794.2 533.6 1789.0 537.2C1783.9 540.7 1778.7 544.0 1773.4 547.0C1767.7 550.1 1760.1 553.9 1754.9 556.1C1750.8 557.9 1746.5 559.0 1742.3 560.3C1737.8 561.7 1732.8 563.2 1728.0 564.2C1722.1 565.5 1713.8 566.7 1706.7 568.0C1699.7 569.3 1692.6 570.7 1685.6 571.9C1678.7 573.0 1671.7 573.9 1664.7 574.9C1657.7 575.9 1649.6 577.0 1643.8 577.9C1639.1 578.6 1634.5 579.4 1629.8 580.2C1625.1 580.9 1620.4 581.6 1615.8 582.5C1611.1 583.4 1606.4 584.3 1601.7 585.3C1597.0 586.3 1592.3 587.5 1587.6 588.5C1583.0 589.5 1578.3 590.5 1573.6 591.5C1568.5 592.4 1562.5 593.6 1557.0 594.5C1550.9 595.4 1543.9 596.3 1537.4 597.2C1530.9 598.1 1524.4 598.8 1517.9 599.7C1511.4 600.6 1504.9 601.9 1498.4 602.7C1491.9 603.4 1485.4 604.1 1478.8 604.2C1472.3 604.4 1465.8 604.1 1459.3 603.6C1452.8 603.2 1446.3 602.5 1439.8 601.7C1433.3 600.9 1426.7 599.9 1420.2 598.8C1413.7 597.6 1407.2 596.3 1400.7 594.8C1394.2 593.4 1387.7 591.6 1381.2 590.0C1374.7 588.3 1368.2 586.5 1361.7 584.7C1355.1 582.9 1348.5 580.9 1342.1 579.2C1336.0 577.5 1323.6 574.3 1323.6 574.3Z" fill="none" stroke="#804848" stroke-width="4.3" stroke-linejoin="round"/>
<path d="M1323.6 623.2C1323.6 623.2 1320.8 613.5 1320.6 608.5C1320.5 602.2 1321.7 592.9 1322.6 585.1C1323.6 576.3 1325.0 565.5 1326.5 555.8C1328.0 546.0 1329.4 536.2 1331.4 526.5C1333.3 516.7 1335.8 506.3 1338.2 497.2C1340.5 488.6 1343.1 480.2 1346.0 471.8C1349.0 463.3 1352.3 454.8 1355.8 446.4C1359.4 437.9 1364.6 428.4 1367.5 421.0C1369.9 414.9 1371.0 408.3 1373.4 402.3C1376.3 394.9 1380.5 385.0 1385.1 376.9C1389.7 368.7 1395.5 360.6 1400.7 353.4C1405.6 346.7 1411.1 339.8 1416.3 333.9C1421.2 328.4 1426.6 323.3 1432.0 318.3C1437.5 313.1 1443.6 307.8 1449.5 302.7C1455.7 297.3 1462.6 290.9 1469.1 286.1C1475.3 281.4 1482.1 277.4 1488.6 273.4C1495.0 269.3 1501.6 265.4 1508.1 261.6C1514.6 257.9 1521.2 254.3 1527.7 250.9C1534.1 247.5 1540.7 244.2 1547.2 241.1C1553.7 238.1 1562.4 234.2 1566.7 232.3C1568.9 231.4 1571.1 230.6 1573.3 229.7C1578.2 227.8 1588.5 223.8 1596.0 220.8C1603.6 217.8 1611.2 214.8 1618.6 211.8C1626.1 208.8 1633.5 205.7 1641.0 202.9C1648.5 200.1 1656.1 197.3 1663.8 194.9C1671.4 192.4 1680.2 190.3 1686.8 188.1C1692.3 186.3 1697.6 183.9 1703.1 182.0C1709.0 179.9 1716.1 177.7 1722.6 175.7C1729.1 173.7 1735.6 171.8 1742.1 169.8C1748.6 167.9 1755.1 165.9 1761.7 164.0C1768.2 162.0 1774.7 160.1 1781.2 158.1C1787.7 156.1 1794.2 153.8 1800.7 151.9C1807.2 149.9 1813.7 148.2 1820.2 146.4C1826.8 144.6 1833.3 142.8 1839.8 141.1C1846.3 139.4 1852.8 138.0 1859.3 136.2C1865.8 134.5 1872.3 132.3 1878.8 130.4C1885.3 128.5 1891.9 126.8 1898.4 124.9C1904.9 123.0 1911.4 121.0 1917.9 119.1C1924.4 117.1 1931.9 114.8 1937.4 113.2C1942.0 111.9 1947.0 110.4 1951.1 109.3C1954.7 108.3 1961.9 106.4 1961.9 106.4C1961.9 106.4 1964.5 116.0 1964.8 121.0C1965.1 127.0 1964.4 135.4 1963.8 142.5C1963.2 150.3 1961.9 159.4 1960.9 167.9C1959.7 177.0 1958.4 187.4 1957.0 197.2C1955.3 208.6 1953.4 223.3 1951.1 236.2C1948.8 249.3 1946.2 262.4 1943.3 275.3C1940.4 288.3 1937.1 301.4 1933.5 314.4C1930.0 327.4 1926.0 341.7 1921.8 353.4C1918.0 364.1 1913.3 374.5 1908.1 384.7C1902.6 395.6 1893.5 410.4 1888.6 419.1C1885.3 424.9 1882.2 430.8 1878.8 436.6C1875.3 442.8 1871.0 450.3 1867.1 456.2C1863.5 461.6 1859.3 466.6 1855.4 471.8C1851.5 477.0 1847.6 482.3 1843.7 487.4C1839.5 493.0 1834.6 499.5 1830.0 505.0C1825.6 510.3 1821.1 515.6 1816.3 520.6C1811.5 525.8 1805.9 531.4 1800.7 536.2C1795.7 541.0 1790.3 545.7 1785.1 549.9C1780.0 554.0 1774.2 558.3 1769.5 561.6C1765.4 564.6 1761.2 567.4 1756.9 570.0C1752.7 572.6 1748.4 575.0 1744.0 577.1C1739.4 579.4 1734.2 581.6 1729.1 583.4C1723.0 585.7 1714.1 588.4 1706.9 590.7C1699.8 593.1 1692.7 595.5 1685.6 597.7C1678.7 599.8 1671.7 601.8 1664.7 603.7C1657.8 605.5 1649.6 607.4 1643.8 608.8C1639.1 610.0 1634.4 611.1 1629.8 612.1C1625.1 613.2 1620.3 614.2 1615.5 615.2C1610.8 616.2 1606.0 617.1 1601.2 618.1C1596.5 619.2 1591.7 620.3 1586.9 621.5C1582.2 622.7 1577.5 623.9 1572.9 625.2C1567.9 626.6 1562.3 628.7 1557.0 630.0C1551.1 631.4 1543.9 632.7 1537.4 633.9C1530.9 635.1 1524.4 636.3 1517.9 637.4C1511.4 638.6 1504.9 639.7 1498.4 640.7C1491.9 641.8 1485.4 642.9 1478.8 643.7C1472.4 644.4 1465.8 645.0 1459.3 645.2C1452.8 645.5 1446.3 645.5 1439.8 645.2C1433.3 645.0 1426.7 644.4 1420.2 643.7C1413.7 642.9 1407.2 641.9 1400.7 640.7C1394.2 639.6 1387.7 638.2 1381.2 636.8C1374.7 635.4 1368.2 633.9 1361.7 632.3C1355.1 630.8 1348.5 629.2 1342.1 627.7C1335.9 626.2 1323.6 623.2 1323.6 623.2Z" fill="none" stroke="#ff6600" stroke-width="4.6" stroke-linejoin="round"/>
<path d="M1298.2 378.8L1298.2 236.2" stroke="#000" stroke-width="3.5" fill="none"/>
<path d="M1298.2 197.2L1290.2 247.6L1298.2 236.2L1306.2 247.6Z" fill="#000"/>
<text transform="translate(1575.0 130.4) scale(0.7880 1)" font-size="53.8" text-anchor="start" fill="#000" stroke="#000" stroke-width="0.90" vector-effect="non-scaling-stroke">FE-HS_700</text>
<text transform="translate(1287.5 193.3) scale(0.7880 1)" font-size="53.8" text-anchor="start" fill="#ff6600" stroke="#ff6600" stroke-width="0.90" vector-effect="non-scaling-stroke">50 mV s<tspan font-size="34.4" dy="-21.5"> -1</tspan></text>
<text transform="translate(1284.5 427.9) scale(0.7880 1)" font-size="53.8" text-anchor="start" fill="#00ff00" stroke="#00ff00" stroke-width="0.90" vector-effect="non-scaling-stroke">5</text>
<text transform="translate(1106.3 540.0) rotate(-90) scale(0.7790 1)" font-size="72.5" text-anchor="start" fill="#000" stroke="#000" stroke-width="0.90" vector-effect="non-scaling-stroke">Current (A)</text>
<rect x="237.4" y="940.8" width="749.8" height="677.5" fill="none" stroke="#000" stroke-width="5"/>
<path d="M344.5 1618.3v-14.5M344.5 940.8v14.5M451.6 1618.3v-14.5M451.6 940.8v14.5M558.7 1618.3v-14.5M558.7 940.8v14.5M665.9 1618.3v-14.5M665.9 940.8v14.5M773.0 1618.3v-14.5M773.0 940.8v14.5M880.1 1618.3v-14.5M880.1 940.8v14.5M291.0 1618.3v-7.2M291.0 940.8v7.2M398.1 1618.3v-7.2M398.1 940.8v7.2M505.2 1618.3v-7.2M505.2 940.8v7.2M612.3 1618.3v-7.2M612.3 940.8v7.2M719.4 1618.3v-7.2M719.4 940.8v7.2M826.5 1618.3v-7.2M826.5 940.8v7.2M933.6 1618.3v-7.2M933.6 940.8v7.2M237.4 989.2h14.5M987.2 989.2h-14.5M237.4 1086.0h14.5M987.2 1086.0h-14.5M237.4 1182.8h14.5M987.2 1182.8h-14.5M237.4 1279.5h14.5M987.2 1279.5h-14.5M237.4 1376.3h14.5M987.2 1376.3h-14.5M237.4 1473.1h14.5M987.2 1473.1h-14.5M237.4 1569.9h14.5M987.2 1569.9h-14.5M237.4 1037.6h7.2M987.2 1037.6h-7.2M237.4 1134.4h7.2M987.2 1134.4h-7.2M237.4 1231.2h7.2M987.2 1231.2h-7.2M237.4 1327.9h7.2M987.2 1327.9h-7.2M237.4 1424.7h7.2M987.2 1424.7h-7.2M237.4 1521.5h7.2M987.2 1521.5h-7.2" stroke="#000" stroke-width="4.8" fill="none"/>
<text transform="translate(237.4 1676.8) scale(0.7880 1)" font-size="53.8" text-anchor="middle" fill="#000" stroke="#000" stroke-width="0.90" vector-effect="non-scaling-stroke">-0.2</text>
<text transform="translate(344.5 1676.8) scale(0.7880 1)" font-size="53.8" text-anchor="middle" fill="#000" stroke="#000" stroke-width="0.90" vector-effect="non-scaling-stroke">0.0</text>
<text transform="translate(451.6 1676.8) scale(0.7880 1)" font-size="53.8" text-anchor="middle" fill="#000" stroke="#000" stroke-width="0.90" vector-effect="non-scaling-stroke">0.2</text>
<text transform="translate(558.7 1676.8) scale(0.7880 1)" font-size="53.8" text-anchor="middle" fill="#000" stroke="#000" stroke-width="0.90" vector-effect="non-scaling-stroke">0.4</text>
<text transform="translate(665.9 1676.8) scale(0.7880 1)" font-size="53.8" text-anchor="middle" fill="#000" stroke="#000" stroke-width="0.90" vector-effect="non-scaling-stroke">0.6</text>
<text transform="translate(773.0 1676.8) scale(0.7880 1)" font-size="53.8" text-anchor="middle" fill="#000" stroke="#000" stroke-width="0.90" vector-effect="non-scaling-stroke">0.8</text>
<text transform="translate(880.1 1676.8) scale(0.7880 1)" font-size="53.8" text-anchor="middle" fill="#000" stroke="#000" stroke-width="0.90" vector-effect="non-scaling-stroke">1.0</text>
<text transform="translate(987.2 1676.8) scale(0.7880 1)" font-size="53.8" text-anchor="middle" fill="#000" stroke="#000" stroke-width="0.90" vector-effect="non-scaling-stroke">1.2</text>
<text transform="translate(218.9 1004.2) scale(0.7880 1)" font-size="53.8" text-anchor="end" fill="#000" stroke="#000" stroke-width="0.90" vector-effect="non-scaling-stroke">0.015</text>
<text transform="translate(218.9 1101.0) scale(0.7880 1)" font-size="53.8" text-anchor="end" fill="#000" stroke="#000" stroke-width="0.90" vector-effect="non-scaling-stroke">0.010</text>
<text transform="translate(218.9 1197.8) scale(0.7880 1)" font-size="53.8" text-anchor="end" fill="#000" stroke="#000" stroke-width="0.90" vector-effect="non-scaling-stroke">0.005</text>
<text transform="translate(218.9 1294.5) scale(0.7880 1)" font-size="53.8" text-anchor="end" fill="#000" stroke="#000" stroke-width="0.90" vector-effect="non-scaling-stroke">0.000</text>
<text transform="translate(218.9 1391.3) scale(0.7880 1)" font-size="53.8" text-anchor="end" fill="#000" stroke="#000" stroke-width="0.90" vector-effect="non-scaling-stroke">-0.005</text>
<text transform="translate(218.9 1488.1) scale(0.7880 1)" font-size="53.8" text-anchor="end" fill="#000" stroke="#000" stroke-width="0.90" vector-effect="non-scaling-stroke">-0.010</text>
<text transform="translate(218.9 1584.9) scale(0.7880 1)" font-size="53.8" text-anchor="end" fill="#000" stroke="#000" stroke-width="0.90" vector-effect="non-scaling-stroke">-0.015</text>
<text transform="translate(295.9 1761.1) scale(0.7790 1)" font-size="72.5" text-anchor="start" fill="#000" stroke="#000" stroke-width="0.90" vector-effect="non-scaling-stroke">Potential (V vs. Ag/AgCl)</text>
<text transform="translate(17.9 996.7) scale(0.8000 1)" font-size="84.0" text-anchor="start" fill="#000" font-weight="bold">(c)</text>
<path d="M292.6 1323.5C292.6 1323.5 290.2 1316.4 290.1 1312.7C290.0 1309.0 291.0 1304.8 292.0 1301.0C293.1 1297.1 294.4 1292.9 296.5 1289.3C298.6 1285.7 301.4 1282.3 304.3 1279.5C307.2 1276.8 310.3 1273.9 314.1 1272.7C321.9 1270.2 341.7 1266.0 351.2 1264.3C357.6 1263.1 364.2 1262.9 370.7 1262.3C377.2 1261.8 383.7 1261.2 390.2 1260.8C396.8 1260.4 403.3 1260.1 409.8 1259.8C416.3 1259.5 422.8 1259.2 429.3 1258.8C439.1 1258.3 455.4 1257.5 468.4 1256.9C482.2 1256.2 498.3 1255.5 512.1 1254.8C525.2 1254.1 538.2 1253.3 551.2 1252.7C564.2 1252.1 577.2 1251.6 590.3 1251.0C603.3 1250.4 619.5 1249.2 629.3 1249.1C635.8 1249.0 642.3 1249.6 648.8 1250.0C655.4 1250.4 661.9 1251.1 668.4 1251.4C674.9 1251.7 681.4 1252.0 687.9 1252.0C694.4 1252.0 700.9 1251.7 707.4 1251.4C714.0 1251.1 720.5 1250.6 727.0 1250.1C733.5 1249.5 740.0 1248.8 746.5 1248.2C753.0 1247.5 759.5 1246.9 766.0 1246.2C773.3 1245.5 782.9 1244.4 790.2 1243.6C796.8 1242.8 803.4 1242.0 810.0 1241.2C818.9 1240.2 832.4 1239.1 843.5 1237.3C854.6 1235.6 865.9 1233.2 877.0 1230.7C888.1 1228.2 903.0 1224.2 910.4 1222.4C914.2 1221.5 918.1 1220.3 921.6 1219.6C924.9 1218.9 931.7 1217.9 931.7 1217.9C931.7 1217.9 934.4 1224.1 934.4 1227.4C934.4 1230.9 933.0 1235.0 931.7 1238.6C930.3 1242.3 928.0 1246.1 926.1 1249.7C924.0 1253.5 921.9 1257.6 919.5 1261.2C917.1 1264.7 914.7 1268.2 911.7 1271.2C908.7 1274.2 905.2 1276.7 901.7 1279.0C897.9 1281.4 893.6 1283.8 889.4 1285.7C884.9 1287.7 879.8 1289.4 874.9 1290.8C869.7 1292.2 863.5 1293.3 858.1 1294.2C853.0 1295.0 847.7 1295.5 842.5 1296.0C836.9 1296.5 830.6 1296.7 824.7 1297.2C818.0 1297.8 809.8 1298.9 802.3 1299.6C794.9 1300.3 785.9 1300.9 780.0 1301.3C775.6 1301.6 771.2 1301.7 766.8 1302.0C761.3 1302.3 753.4 1303.1 746.7 1303.4C736.8 1303.8 720.6 1304.1 707.5 1304.5C694.5 1304.8 681.4 1304.8 668.4 1305.3C655.3 1305.9 639.1 1307.1 629.3 1307.9C622.8 1308.3 616.3 1309.0 609.8 1309.8C603.3 1310.6 596.8 1311.8 590.3 1312.7C583.7 1313.6 577.2 1314.6 570.7 1315.3C564.2 1316.0 557.7 1316.4 551.2 1316.7C541.4 1317.1 522.7 1317.5 512.1 1317.7C504.1 1317.9 495.2 1318.1 487.9 1318.2C481.4 1318.3 474.9 1318.2 468.4 1318.2C461.9 1318.2 455.4 1318.2 448.8 1318.2C442.3 1318.2 435.8 1318.2 429.3 1318.2C422.8 1318.2 416.3 1318.2 409.8 1318.2C403.3 1318.2 396.8 1318.1 390.2 1318.2C383.7 1318.3 377.2 1318.4 370.7 1318.6C364.2 1318.8 357.7 1318.9 351.2 1319.2C344.7 1319.4 338.2 1319.8 331.7 1320.2C325.1 1320.5 318.6 1321.0 312.1 1321.5C305.6 1322.1 292.6 1323.5 292.6 1323.5Z" fill="none" stroke="#0000ff" stroke-width="5.2" stroke-linejoin="round"/>
<path d="M292.6 1356.3C292.6 1356.3 289.5 1348.2 289.3 1344.0C289.0 1339.7 290.2 1334.8 291.0 1330.3C292.0 1325.4 293.2 1319.8 294.9 1314.7C296.7 1309.5 298.8 1303.9 301.4 1299.1C303.9 1294.3 308.1 1289.5 310.2 1285.4C311.9 1282.0 311.9 1277.7 314.1 1274.5C316.4 1271.0 320.3 1267.6 323.8 1264.7C327.4 1261.8 331.4 1259.0 335.6 1256.9C340.1 1254.6 345.9 1252.6 351.2 1251.0C357.0 1249.2 364.2 1247.5 370.7 1246.1C377.2 1244.8 383.7 1243.7 390.2 1242.8C396.7 1241.9 403.3 1241.3 409.8 1240.7C416.3 1240.0 422.8 1239.3 429.3 1238.7C435.8 1238.1 442.3 1237.5 448.8 1237.0C455.4 1236.4 461.9 1236.0 468.4 1235.4C474.9 1234.8 481.4 1234.1 487.9 1233.4C495.2 1232.7 505.0 1231.7 512.3 1231.0C518.8 1230.4 525.3 1229.9 531.8 1229.2C538.3 1228.6 544.8 1227.8 551.3 1227.1C557.8 1226.4 564.3 1225.7 570.8 1225.1C577.3 1224.6 583.8 1224.2 590.3 1223.7C596.8 1223.3 603.3 1223.0 609.8 1222.7C616.3 1222.4 622.8 1221.9 629.3 1221.7C635.8 1221.5 642.3 1221.3 648.8 1221.3C655.4 1221.3 661.9 1221.5 668.4 1221.7C674.9 1221.9 681.4 1222.5 687.9 1222.7C694.4 1222.9 700.9 1223.1 707.4 1223.0C713.9 1222.9 720.5 1222.6 727.0 1222.2C733.5 1221.8 740.0 1221.3 746.5 1220.6C753.0 1219.9 759.5 1218.8 766.0 1218.0C773.3 1217.0 783.0 1215.8 790.2 1214.9C796.7 1214.0 803.2 1213.4 809.6 1212.4C818.5 1211.0 832.0 1208.7 843.2 1206.7C854.4 1204.8 865.7 1203.0 876.8 1200.6C888.0 1198.1 903.0 1194.0 910.4 1192.1C914.2 1191.1 918.2 1189.9 921.6 1188.9C924.6 1188.0 930.5 1186.1 930.5 1186.1C930.5 1186.1 933.2 1193.4 933.3 1197.3C933.4 1201.7 932.2 1207.8 931.1 1212.9C929.9 1218.3 928.2 1224.2 926.1 1229.6C923.9 1235.2 921.2 1241.1 918.3 1246.4C915.4 1251.6 911.3 1256.8 908.3 1261.2C905.8 1264.9 903.3 1268.8 900.5 1272.3C897.8 1275.8 894.9 1279.3 891.6 1282.4C888.3 1285.5 884.3 1288.5 880.4 1291.3C876.5 1294.1 872.4 1296.8 868.2 1299.1C863.7 1301.5 858.7 1304.0 853.7 1305.8C848.3 1307.6 841.8 1309.1 835.8 1310.2C829.1 1311.5 820.9 1312.5 813.5 1313.6C806.0 1314.6 796.7 1315.6 791.2 1316.3C787.4 1316.8 783.7 1317.2 780.0 1317.7C775.8 1318.2 770.8 1319.0 766.2 1319.6C760.7 1320.2 753.2 1320.9 746.7 1321.5C740.2 1322.2 733.6 1322.8 727.1 1323.4C720.6 1324.0 714.0 1324.7 707.5 1325.3C701.0 1325.8 694.4 1326.3 687.9 1326.9C681.4 1327.4 674.9 1328.1 668.4 1328.8C661.9 1329.4 655.3 1330.0 648.8 1330.7C642.3 1331.5 635.8 1332.3 629.3 1333.2C622.8 1334.2 616.3 1335.1 609.8 1336.2C603.3 1337.2 596.8 1338.5 590.2 1339.7C583.7 1340.9 577.2 1342.3 570.7 1343.5C564.2 1344.7 557.7 1345.8 551.2 1346.7C544.7 1347.7 538.1 1348.5 531.6 1349.2C525.1 1349.8 518.6 1350.2 512.1 1350.5C504.8 1350.9 495.2 1351.1 487.9 1351.4C481.4 1351.7 474.9 1352.0 468.4 1352.2C461.9 1352.4 455.4 1352.7 448.8 1352.8C442.3 1352.9 435.8 1352.9 429.3 1352.8C422.8 1352.6 416.3 1352.0 409.8 1351.8C403.3 1351.6 396.8 1351.4 390.2 1351.4C383.7 1351.4 377.2 1351.7 370.7 1351.8C364.2 1351.9 357.7 1351.9 351.2 1352.2C344.7 1352.4 338.2 1352.9 331.7 1353.4C325.1 1353.8 318.6 1354.2 312.1 1354.7C305.6 1355.2 292.6 1356.3 292.6 1356.3Z" fill="none" stroke="#c070e8" stroke-width="4.9" stroke-linejoin="round"/>
<path d="M292.6 1417.8C292.6 1417.8 289.5 1412.4 289.3 1409.4C289.0 1405.6 290.2 1399.6 291.0 1394.8C292.0 1389.1 293.5 1381.7 294.9 1375.2C296.5 1368.1 298.4 1359.6 300.4 1351.8C302.5 1344.0 304.8 1335.8 307.2 1328.4C309.6 1321.1 312.3 1313.7 315.1 1306.9C317.7 1300.3 321.7 1291.8 323.8 1287.3C325.0 1284.9 326.4 1282.6 327.8 1280.3C330.0 1276.5 334.0 1269.7 337.5 1264.7C341.1 1259.5 345.3 1253.6 349.2 1249.1C352.8 1244.9 356.7 1240.9 361.0 1237.3C365.2 1233.8 369.9 1230.5 374.6 1227.6C379.5 1224.6 384.9 1221.8 390.2 1219.4C396.1 1216.8 403.3 1214.1 409.8 1212.0C416.2 1209.8 422.8 1208.1 429.3 1206.5C435.8 1204.9 442.3 1203.6 448.8 1202.2C455.3 1200.8 461.9 1199.6 468.4 1198.3C474.9 1197.0 481.4 1195.7 487.9 1194.4C495.2 1192.9 504.7 1191.0 511.9 1189.6C518.5 1188.3 525.0 1186.9 531.5 1185.8C538.0 1184.6 544.6 1183.7 551.1 1182.7C557.6 1181.8 564.1 1180.9 570.7 1180.1C577.2 1179.2 583.7 1178.5 590.2 1177.7C596.7 1177.0 603.3 1176.3 609.8 1175.8C616.3 1175.3 622.8 1175.2 629.3 1174.8C635.8 1174.5 642.3 1174.2 648.8 1173.9C655.4 1173.5 661.9 1173.1 668.4 1172.9C674.9 1172.6 681.4 1172.5 687.9 1172.3C694.4 1172.2 700.9 1172.1 707.4 1172.0C714.0 1171.9 720.5 1171.9 727.0 1171.7C733.5 1171.6 740.0 1171.6 746.5 1171.3C753.0 1170.9 759.6 1170.4 766.1 1169.7C773.3 1169.0 783.0 1168.0 790.2 1167.0C796.8 1166.2 803.3 1165.3 809.8 1164.1C818.6 1162.5 832.2 1160.0 843.3 1157.6C854.5 1155.2 865.7 1152.5 876.9 1149.7C888.0 1146.9 903.0 1142.7 910.4 1140.7C914.1 1139.6 918.2 1138.6 921.6 1137.4C924.6 1136.4 930.5 1133.6 930.5 1133.6C930.5 1133.6 933.2 1138.7 933.3 1141.5C933.5 1145.6 932.5 1152.7 931.7 1158.2C930.6 1164.7 929.0 1173.2 927.2 1180.5C925.3 1188.0 923.1 1195.5 920.5 1202.9C917.7 1210.7 914.2 1219.4 910.4 1227.4C905.8 1237.1 896.8 1253.3 892.7 1261.2C890.4 1265.6 888.4 1270.2 886.0 1274.5C883.6 1279.0 881.0 1283.6 878.2 1287.8C875.4 1292.0 872.4 1296.0 869.2 1299.9C865.8 1303.9 862.0 1308.2 857.9 1311.8C853.8 1315.5 849.2 1318.7 844.4 1321.6C839.6 1324.4 834.1 1326.8 828.7 1329.0C823.1 1331.4 816.5 1333.7 810.7 1335.4C805.2 1337.1 799.2 1338.5 794.0 1339.7C789.1 1340.8 783.9 1341.4 779.4 1342.4C775.2 1343.5 771.2 1345.1 767.1 1346.3C761.8 1347.7 754.0 1349.8 747.4 1351.2C740.9 1352.6 734.2 1353.6 727.6 1354.7C721.0 1355.8 714.3 1356.7 707.7 1357.8C701.1 1358.9 694.5 1360.1 687.9 1361.3C681.4 1362.6 674.9 1364.1 668.4 1365.5C661.9 1366.8 655.4 1368.1 648.8 1369.4C642.3 1370.6 635.8 1371.6 629.3 1372.9C622.8 1374.2 616.3 1375.7 609.8 1377.2C603.3 1378.7 596.7 1380.3 590.2 1382.0C583.7 1383.7 577.1 1385.6 570.5 1387.3C564.0 1389.0 557.4 1390.7 550.8 1392.4C544.2 1394.1 537.6 1395.8 531.1 1397.5C524.5 1399.2 518.0 1401.0 511.5 1402.5C504.3 1404.1 495.1 1406.1 487.9 1407.5C481.4 1408.7 474.9 1409.6 468.4 1410.4C461.9 1411.2 455.4 1411.9 448.8 1412.3C442.3 1412.8 435.8 1413.1 429.3 1413.3C422.8 1413.6 416.3 1413.8 409.8 1413.9C403.3 1414.0 396.8 1413.9 390.2 1413.9C383.7 1413.9 377.2 1413.8 370.7 1413.9C364.2 1414.0 357.7 1414.1 351.2 1414.3C344.7 1414.5 338.2 1414.9 331.7 1415.3C325.1 1415.6 318.6 1415.8 312.1 1416.2C305.6 1416.7 292.6 1417.8 292.6 1417.8Z" fill="none" stroke="#d89600" stroke-width="4.3" stroke-linejoin="round"/>
<path d="M292.6 1475.4C292.6 1475.4 289.5 1470.0 289.3 1467.0C289.0 1463.0 290.3 1456.6 291.0 1451.4C291.9 1445.2 293.2 1437.1 294.5 1429.9C295.9 1422.4 297.7 1414.3 299.4 1406.5C301.2 1398.3 303.2 1389.5 305.3 1381.1C307.4 1372.6 309.7 1363.8 312.1 1355.7C314.5 1347.8 317.2 1340.0 319.9 1332.3C322.7 1324.5 325.6 1316.3 328.7 1308.8C331.7 1301.6 336.1 1293.1 338.5 1287.3C340.3 1283.1 341.4 1278.6 343.4 1274.5C346.1 1268.7 350.9 1259.8 355.1 1253.0C359.3 1246.2 364.2 1239.3 368.8 1233.4C373.0 1228.0 377.6 1222.7 382.4 1217.8C387.3 1212.9 392.9 1208.2 398.1 1204.1C403.0 1200.2 408.5 1196.7 413.7 1193.4C418.8 1190.2 424.0 1187.3 429.3 1184.6C435.2 1181.7 442.3 1178.5 448.8 1175.8C455.3 1173.2 461.9 1170.9 468.4 1168.6C474.8 1166.3 481.4 1164.2 487.9 1162.1C495.1 1159.8 504.2 1156.9 511.4 1154.8C517.9 1152.8 524.5 1150.9 531.1 1149.2C537.6 1147.6 544.2 1146.1 550.8 1144.7C557.3 1143.3 564.0 1142.2 570.5 1141.0C577.1 1139.9 583.7 1138.7 590.2 1137.7C596.7 1136.6 603.3 1135.7 609.8 1134.8C616.3 1133.9 622.8 1133.0 629.3 1132.5C635.8 1131.9 642.3 1131.6 648.8 1131.3C655.4 1130.9 661.9 1130.6 668.4 1130.3C674.9 1130.0 681.4 1129.8 687.9 1129.5C694.4 1129.2 700.9 1129.0 707.4 1128.7C713.9 1128.4 720.4 1127.9 726.9 1127.4C733.4 1127.0 739.9 1126.4 746.4 1125.8C752.9 1125.3 759.4 1124.8 765.9 1124.1C773.2 1123.4 783.0 1122.1 790.2 1121.1C796.7 1120.3 803.2 1119.3 809.6 1118.2C818.4 1116.8 832.0 1114.6 843.1 1112.4C854.3 1110.1 865.6 1107.6 876.7 1104.7C887.9 1101.8 902.9 1097.2 910.3 1095.0C914.1 1093.8 918.1 1092.6 921.5 1091.3C924.8 1090.1 931.0 1087.0 931.0 1087.0C931.0 1087.0 933.2 1092.6 933.3 1095.5C933.4 1100.3 932.5 1109.1 931.7 1115.8C930.7 1122.9 929.2 1130.7 927.7 1138.1C926.1 1146.5 924.1 1156.8 921.6 1166.0C919.1 1175.3 915.8 1184.7 912.7 1193.9C909.5 1203.2 906.9 1212.9 902.6 1221.8C897.1 1233.6 884.5 1254.8 879.3 1264.5C876.6 1269.6 874.1 1275.1 871.5 1280.1C869.0 1285.0 866.5 1290.0 863.7 1294.6C860.9 1299.2 857.9 1303.6 854.7 1308.0C851.6 1312.4 848.4 1317.2 844.7 1321.4C841.0 1325.6 836.7 1329.9 832.4 1333.6C828.2 1337.3 823.7 1340.7 819.0 1343.6C814.0 1346.8 808.1 1350.1 802.3 1352.6C795.7 1355.2 785.4 1357.7 779.9 1359.8C776.4 1361.2 773.2 1363.5 769.7 1365.0C764.7 1367.2 756.5 1370.7 749.7 1372.8C742.9 1375.0 736.0 1376.3 729.1 1377.9C722.2 1379.5 715.2 1381.0 708.4 1382.6C701.6 1384.1 694.7 1385.5 688.0 1387.2C681.4 1388.9 674.9 1391.0 668.4 1392.8C661.9 1394.7 655.3 1396.4 648.8 1398.3C642.3 1400.2 635.8 1402.1 629.3 1404.1C622.8 1406.2 616.3 1408.4 609.8 1410.4C603.3 1412.4 596.7 1414.3 590.2 1416.2C583.7 1418.1 577.1 1419.9 570.5 1422.0C564.0 1424.1 557.3 1426.5 550.8 1428.8C544.2 1431.2 537.6 1433.6 531.0 1436.1C524.5 1438.5 518.0 1441.2 511.4 1443.6C504.2 1446.3 495.1 1449.5 487.9 1451.8C481.5 1453.8 474.9 1455.6 468.4 1457.3C461.9 1458.9 455.4 1460.3 448.8 1461.6C442.4 1462.9 435.8 1464.1 429.3 1465.1C422.8 1466.1 416.3 1466.8 409.8 1467.4C403.3 1468.1 396.8 1468.5 390.2 1469.0C383.7 1469.5 377.2 1470.0 370.7 1470.4C364.2 1470.7 357.7 1471.0 351.2 1471.3C344.7 1471.7 338.2 1472.1 331.7 1472.5C325.1 1472.9 318.6 1473.4 312.1 1473.9C305.6 1474.4 292.6 1475.4 292.6 1475.4Z" fill="none" stroke="#00c8d0" stroke-width="5.0" stroke-linejoin="round"/>
<path d="M292.6 1529.5C292.6 1529.5 289.8 1523.8 289.7 1520.7C289.5 1516.2 290.8 1508.4 291.6 1502.2C292.6 1494.5 294.1 1483.9 295.5 1474.8C297.0 1465.7 298.6 1456.6 300.4 1447.5C302.2 1438.4 304.2 1429.2 306.3 1420.2C308.4 1411.0 310.7 1401.9 313.1 1392.8C315.5 1383.7 318.2 1374.5 320.9 1365.5C323.7 1356.4 326.6 1346.9 329.7 1338.1C332.7 1329.6 336.0 1321.1 339.5 1312.7C343.0 1303.9 348.6 1292.1 351.2 1285.4C352.8 1281.2 353.3 1276.6 355.1 1272.5C357.7 1266.4 362.6 1256.5 366.8 1249.1C371.0 1241.7 375.9 1234.3 380.5 1227.6C384.8 1221.2 389.3 1215.0 394.2 1209.0C399.0 1203.0 404.6 1196.8 409.8 1191.4C414.8 1186.3 420.2 1181.2 425.4 1176.8C430.4 1172.6 435.8 1168.7 441.0 1165.1C446.1 1161.6 451.4 1158.2 456.7 1155.3C461.7 1152.5 467.1 1149.9 472.3 1147.5C477.4 1145.1 482.6 1142.8 487.9 1140.7C494.6 1137.9 505.2 1134.0 512.5 1131.0C519.1 1128.3 525.5 1125.3 532.0 1122.6C538.4 1120.0 544.9 1117.3 551.4 1114.9C557.8 1112.5 564.3 1110.2 570.8 1108.1C577.2 1106.0 583.8 1104.0 590.3 1102.2C596.7 1100.4 603.3 1098.7 609.8 1097.3C616.2 1095.9 622.8 1094.8 629.3 1093.8C635.8 1092.8 642.3 1091.9 648.8 1091.2C655.3 1090.6 661.9 1090.2 668.4 1089.9C674.9 1089.5 681.4 1089.4 687.9 1089.2C694.4 1088.9 700.9 1088.7 707.4 1088.4C713.9 1088.0 720.4 1087.7 726.9 1087.2C733.3 1086.7 739.8 1086.0 746.3 1085.3C752.8 1084.6 759.4 1084.0 765.8 1083.1C773.2 1082.2 783.0 1080.7 790.2 1079.5C796.7 1078.5 803.1 1077.1 809.5 1076.3C818.4 1075.0 832.3 1074.3 843.5 1072.3C854.7 1070.3 867.3 1067.2 876.8 1064.3C884.8 1061.8 895.0 1056.8 900.1 1054.8C902.5 1053.9 905.0 1053.5 907.4 1052.8C910.9 1051.8 917.2 1049.8 921.1 1048.9C924.3 1048.1 930.9 1046.9 930.9 1046.9C930.9 1046.9 933.6 1055.6 933.4 1060.1C933.2 1066.9 931.0 1078.7 929.4 1088.0C927.8 1097.2 925.7 1106.6 923.6 1115.8C921.6 1125.1 919.7 1134.5 917.3 1143.7C914.9 1153.0 912.1 1162.4 909.3 1171.6C906.5 1180.9 903.6 1190.3 900.4 1199.5C897.1 1208.8 893.9 1218.3 889.8 1227.4C884.8 1238.6 874.9 1257.4 870.4 1266.7C867.7 1272.3 865.2 1278.1 862.6 1283.5C860.1 1288.7 857.6 1294.1 854.8 1299.1C852.0 1304.1 849.0 1309.0 845.8 1313.6C842.7 1318.2 839.3 1322.7 835.8 1327.0C832.3 1331.2 828.5 1335.3 824.6 1339.2C820.7 1343.1 816.7 1347.1 812.3 1350.4C807.7 1353.9 802.1 1357.5 796.7 1360.4C791.3 1363.4 784.5 1365.8 780.0 1368.2C776.2 1370.2 772.9 1372.9 769.3 1374.9C764.1 1377.8 756.0 1382.3 749.3 1385.5C742.6 1388.8 735.6 1391.9 728.8 1394.7C722.0 1397.5 715.0 1399.7 708.2 1402.2C701.4 1404.8 694.6 1407.5 688.0 1410.1C681.4 1412.7 674.9 1415.2 668.4 1417.8C661.9 1420.4 655.4 1423.1 648.8 1425.6C642.4 1428.1 635.8 1430.4 629.3 1432.9C622.8 1435.3 616.3 1437.7 609.8 1440.1C603.3 1442.5 596.7 1445.0 590.2 1447.4C583.7 1449.9 577.1 1452.3 570.5 1454.8C563.9 1457.4 557.3 1459.8 550.7 1462.5C544.1 1465.2 537.5 1468.1 531.0 1471.0C524.4 1473.9 517.9 1477.0 511.3 1479.9C504.2 1483.2 495.1 1487.4 487.9 1490.5C481.5 1493.2 474.9 1495.8 468.4 1498.3C461.9 1500.7 455.4 1503.0 448.8 1505.1C442.4 1507.2 435.8 1509.3 429.3 1511.0C422.9 1512.7 416.3 1514.2 409.8 1515.5C403.3 1516.8 396.8 1517.8 390.2 1518.8C383.8 1519.8 377.2 1520.6 370.7 1521.3C364.2 1522.1 357.7 1522.6 351.2 1523.3C344.7 1523.9 338.2 1524.6 331.7 1525.2C325.1 1525.9 318.6 1526.5 312.1 1527.2C305.6 1527.9 292.6 1529.5 292.6 1529.5Z" fill="none" stroke="#804848" stroke-width="4.3" stroke-linejoin="round"/>
<path d="M292.6 1579.3C292.6 1579.3 289.8 1573.6 289.7 1570.5C289.5 1565.5 290.8 1556.2 291.6 1549.1C292.8 1539.6 294.7 1525.6 296.5 1513.9C298.3 1502.2 300.2 1490.1 302.4 1478.8C304.4 1467.6 306.8 1456.6 309.2 1445.5C311.6 1434.5 314.2 1423.1 317.0 1412.3C319.7 1401.9 322.7 1391.2 325.8 1381.1C328.8 1371.3 332.2 1361.5 335.6 1351.8C339.0 1342.0 342.5 1332.2 346.3 1322.5C350.2 1312.4 355.3 1300.9 359.0 1291.2C362.4 1282.5 365.2 1273.3 368.8 1264.7C372.3 1256.1 376.3 1247.4 380.5 1239.3C384.7 1231.3 389.4 1223.5 394.2 1215.9C399.0 1208.0 404.6 1199.6 409.8 1192.4C414.7 1185.7 420.2 1178.8 425.4 1172.9C430.3 1167.4 435.8 1162.0 441.0 1157.3C446.0 1152.8 451.4 1148.6 456.7 1144.6C461.8 1140.6 467.1 1136.4 472.3 1132.9C477.3 1129.4 482.6 1126.1 487.9 1123.1C494.7 1119.2 505.7 1113.5 513.1 1109.4C519.6 1105.8 526.1 1101.9 532.5 1098.4C538.9 1094.8 545.3 1091.2 551.7 1088.0C558.0 1084.8 564.5 1081.7 570.9 1079.0C577.3 1076.2 583.8 1073.7 590.3 1071.4C596.7 1069.0 603.3 1066.8 609.8 1064.9C616.2 1062.9 622.8 1061.1 629.3 1059.6C635.8 1058.1 642.3 1056.8 648.8 1055.7C655.3 1054.6 661.9 1053.5 668.4 1052.8C674.9 1052.0 681.4 1051.6 687.9 1051.2C694.4 1050.7 700.9 1050.4 707.4 1050.1C713.9 1049.7 720.4 1049.4 726.9 1049.1C733.4 1048.9 740.0 1048.9 746.5 1048.4C753.0 1048.0 759.5 1047.2 766.0 1046.4C773.3 1045.5 782.9 1044.2 790.2 1043.0C796.8 1042.0 803.3 1040.7 809.8 1039.5C816.3 1038.3 822.8 1037.0 829.3 1035.6C835.8 1034.2 842.4 1032.8 848.8 1031.3C855.4 1029.8 861.9 1028.2 868.4 1026.4C874.9 1024.6 881.4 1022.6 887.9 1020.5C894.4 1018.4 901.9 1015.7 907.4 1013.7C912.0 1012.1 917.2 1010.0 921.1 1008.8C924.3 1007.8 930.9 1006.5 930.9 1006.5C930.9 1006.5 933.7 1011.8 933.8 1014.7C934.0 1020.0 932.7 1030.5 931.9 1038.1C931.0 1045.6 929.9 1053.0 928.7 1060.4C927.3 1068.7 925.7 1079.0 923.9 1088.2C922.0 1097.5 919.8 1106.8 917.5 1116.0C915.2 1125.3 912.6 1134.6 909.9 1143.8C907.3 1153.1 904.4 1162.4 901.6 1171.6C898.7 1180.9 895.7 1190.3 892.6 1199.5C889.4 1208.8 886.6 1218.4 882.5 1227.4C877.5 1238.6 867.2 1257.4 862.6 1266.7C859.9 1272.3 857.4 1278.1 854.8 1283.5C852.2 1288.7 849.5 1294.2 846.8 1298.9C844.3 1303.4 841.5 1307.7 838.7 1312.0C835.8 1316.3 832.7 1320.8 829.4 1324.9C826.1 1329.1 822.6 1332.9 819.0 1336.8C815.3 1340.7 811.5 1344.8 807.4 1348.6C803.4 1352.4 799.2 1356.0 794.9 1359.4C790.0 1363.4 781.7 1369.2 778.0 1372.1C776.1 1373.6 774.4 1375.5 772.4 1376.9C768.1 1379.9 759.0 1386.3 752.0 1390.3C745.0 1394.4 737.6 1397.9 730.4 1401.3C723.3 1404.8 715.9 1408.0 708.8 1411.3C701.9 1414.6 694.8 1417.9 688.0 1421.3C681.4 1424.7 674.9 1428.4 668.4 1431.9C661.9 1435.3 655.4 1438.8 648.8 1442.0C642.4 1445.3 635.8 1448.3 629.3 1451.4C622.8 1454.5 616.3 1457.6 609.8 1460.8C603.3 1464.0 596.8 1467.3 590.2 1470.5C583.6 1473.6 577.0 1476.6 570.4 1479.8C563.8 1482.9 557.0 1485.9 550.5 1489.3C543.8 1492.7 537.2 1496.6 530.6 1500.4C524.0 1504.1 517.4 1508.0 510.9 1511.8C503.8 1516.0 495.0 1521.7 487.9 1525.6C481.5 1529.2 474.9 1532.3 468.4 1535.4C461.9 1538.5 455.4 1541.5 448.8 1544.2C442.4 1546.8 435.8 1549.1 429.3 1551.4C422.8 1553.7 416.3 1556.0 409.8 1557.9C403.3 1559.7 396.8 1561.2 390.2 1562.7C383.8 1564.3 377.2 1565.7 370.7 1567.0C364.2 1568.4 357.7 1569.8 351.2 1570.9C344.7 1572.1 338.2 1573.1 331.7 1574.1C325.2 1575.0 318.6 1575.9 312.1 1576.8C305.6 1577.7 292.6 1579.3 292.6 1579.3Z" fill="none" stroke="#ff6600" stroke-width="4.6" stroke-linejoin="round"/>
<path d="M274.4 1259.8L274.4 1119.1" stroke="#000" stroke-width="3.5" fill="none"/>
<path d="M274.4 1080.1L266.4 1130.5L274.4 1119.1L282.4 1130.5Z" fill="#000"/>
<text transform="translate(550.0 1013.7) scale(0.7880 1)" font-size="53.8" text-anchor="start" fill="#000" stroke="#000" stroke-width="0.90" vector-effect="non-scaling-stroke">FE-HS_900</text>
<text transform="translate(262.4 1072.3) scale(0.7880 1)" font-size="53.8" text-anchor="start" fill="#ff6600" stroke="#ff6600" stroke-width="0.90" vector-effect="non-scaling-stroke">50 mV s<tspan font-size="34.4" dy="-21.5"> -1</tspan></text>
<text transform="translate(261.0 1317.6) scale(0.7880 1)" font-size="53.8" text-anchor="start" fill="#0000ff" stroke="#0000ff" stroke-width="0.90" vector-effect="non-scaling-stroke">5</text>
<text transform="translate(75.5 1420.0) rotate(-90) scale(0.7790 1)" font-size="72.5" text-anchor="start" fill="#000" stroke="#000" stroke-width="0.90" vector-effect="non-scaling-stroke">Current (A)</text>
<rect x="1269.6" y="940.7" width="749.8" height="677.5" fill="none" stroke="#000" stroke-width="5"/>
<path d="M1376.7 1618.2v-14.5M1376.7 940.7v14.5M1483.8 1618.2v-14.5M1483.8 940.7v14.5M1590.9 1618.2v-14.5M1590.9 940.7v14.5M1698.1 1618.2v-14.5M1698.1 940.7v14.5M1805.2 1618.2v-14.5M1805.2 940.7v14.5M1912.3 1618.2v-14.5M1912.3 940.7v14.5M1323.2 1618.2v-7.2M1323.2 940.7v7.2M1430.3 1618.2v-7.2M1430.3 940.7v7.2M1537.4 1618.2v-7.2M1537.4 940.7v7.2M1644.5 1618.2v-7.2M1644.5 940.7v7.2M1751.6 1618.2v-7.2M1751.6 940.7v7.2M1858.7 1618.2v-7.2M1858.7 940.7v7.2M1965.8 1618.2v-7.2M1965.8 940.7v7.2M1269.6 989.1h14.5M2019.4 989.1h-14.5M1269.6 1085.9h14.5M2019.4 1085.9h-14.5M1269.6 1182.7h14.5M2019.4 1182.7h-14.5M1269.6 1279.5h14.5M2019.4 1279.5h-14.5M1269.6 1376.2h14.5M2019.4 1376.2h-14.5M1269.6 1473.0h14.5M2019.4 1473.0h-14.5M1269.6 1569.8h14.5M2019.4 1569.8h-14.5M1269.6 1037.5h7.2M2019.4 1037.5h-7.2M1269.6 1134.3h7.2M2019.4 1134.3h-7.2M1269.6 1231.1h7.2M2019.4 1231.1h-7.2M1269.6 1327.8h7.2M2019.4 1327.8h-7.2M1269.6 1424.6h7.2M2019.4 1424.6h-7.2M1269.6 1521.4h7.2M2019.4 1521.4h-7.2" stroke="#000" stroke-width="4.8" fill="none"/>
<text transform="translate(1269.6 1676.7) scale(0.7880 1)" font-size="53.8" text-anchor="middle" fill="#000" stroke="#000" stroke-width="0.90" vector-effect="non-scaling-stroke">-0.2</text>
<text transform="translate(1376.7 1676.7) scale(0.7880 1)" font-size="53.8" text-anchor="middle" fill="#000" stroke="#000" stroke-width="0.90" vector-effect="non-scaling-stroke">0.0</text>
<text transform="translate(1483.8 1676.7) scale(0.7880 1)" font-size="53.8" text-anchor="middle" fill="#000" stroke="#000" stroke-width="0.90" vector-effect="non-scaling-stroke">0.2</text>
<text transform="translate(1590.9 1676.7) scale(0.7880 1)" font-size="53.8" text-anchor="middle" fill="#000" stroke="#000" stroke-width="0.90" vector-effect="non-scaling-stroke">0.4</text>
<text transform="translate(1698.1 1676.7) scale(0.7880 1)" font-size="53.8" text-anchor="middle" fill="#000" stroke="#000" stroke-width="0.90" vector-effect="non-scaling-stroke">0.6</text>
<text transform="translate(1805.2 1676.7) scale(0.7880 1)" font-size="53.8" text-anchor="middle" fill="#000" stroke="#000" stroke-width="0.90" vector-effect="non-scaling-stroke">0.8</text>
<text transform="translate(1912.3 1676.7) scale(0.7880 1)" font-size="53.8" text-anchor="middle" fill="#000" stroke="#000" stroke-width="0.90" vector-effect="non-scaling-stroke">1.0</text>
<text transform="translate(2019.4 1676.7) scale(0.7880 1)" font-size="53.8" text-anchor="middle" fill="#000" stroke="#000" stroke-width="0.90" vector-effect="non-scaling-stroke">1.2</text>
<text transform="translate(1251.1 1004.1) scale(0.7880 1)" font-size="53.8" text-anchor="end" fill="#000" stroke="#000" stroke-width="0.90" vector-effect="non-scaling-stroke">0.015</text>
<text transform="translate(1251.1 1100.9) scale(0.7880 1)" font-size="53.8" text-anchor="end" fill="#000" stroke="#000" stroke-width="0.90" vector-effect="non-scaling-stroke">0.010</text>
<text transform="translate(1251.1 1197.7) scale(0.7880 1)" font-size="53.8" text-anchor="end" fill="#000" stroke="#000" stroke-width="0.90" vector-effect="non-scaling-stroke">0.005</text>
<text transform="translate(1251.1 1294.5) scale(0.7880 1)" font-size="53.8" text-anchor="end" fill="#000" stroke="#000" stroke-width="0.90" vector-effect="non-scaling-stroke">0.000</text>
<text transform="translate(1251.1 1391.2) scale(0.7880 1)" font-size="53.8" text-anchor="end" fill="#000" stroke="#000" stroke-width="0.90" vector-effect="non-scaling-stroke">-0.005</text>
<text transform="translate(1251.1 1488.0) scale(0.7880 1)" font-size="53.8" text-anchor="end" fill="#000" stroke="#000" stroke-width="0.90" vector-effect="non-scaling-stroke">-0.010</text>
<text transform="translate(1251.1 1584.8) scale(0.7880 1)" font-size="53.8" text-anchor="end" fill="#000" stroke="#000" stroke-width="0.90" vector-effect="non-scaling-stroke">-0.015</text>
<text transform="translate(1328.1 1761.0) scale(0.7790 1)" font-size="72.5" text-anchor="start" fill="#000" stroke="#000" stroke-width="0.90" vector-effect="non-scaling-stroke">Potential (V vs. Ag/AgCl)</text>
<text transform="translate(1035.0 1010.1) scale(0.8000 1)" font-size="84.0" text-anchor="start" fill="#000" font-weight="bold">(d)</text>
<path d="M1324.9 1317.6C1324.9 1317.6 1321.7 1311.3 1321.6 1307.9C1321.6 1304.3 1323.1 1299.9 1324.5 1296.1C1326.0 1292.4 1328.0 1288.5 1330.4 1285.4C1332.8 1282.3 1336.0 1279.8 1339.2 1277.6C1342.5 1275.4 1346.0 1273.0 1349.9 1272.1C1358.2 1270.1 1378.9 1267.1 1389.0 1265.7C1396.1 1264.7 1403.3 1264.3 1410.5 1263.7C1418.9 1263.1 1430.0 1262.4 1439.8 1261.8C1451.2 1261.0 1465.8 1260.0 1478.8 1259.2C1491.9 1258.4 1507.4 1257.5 1517.9 1256.9C1526.0 1256.4 1534.0 1256.0 1542.1 1255.7C1552.6 1255.2 1568.1 1254.6 1581.2 1254.2C1594.2 1253.8 1607.2 1253.9 1620.2 1253.5C1633.3 1253.1 1649.5 1252.3 1659.3 1252.0C1665.8 1251.8 1672.3 1251.5 1678.8 1251.6C1685.4 1251.7 1691.9 1252.2 1698.4 1252.4C1704.9 1252.6 1711.4 1252.9 1717.9 1252.9C1724.4 1252.9 1730.9 1252.9 1737.4 1252.6C1743.9 1252.3 1750.4 1251.7 1756.9 1251.1C1763.4 1250.6 1769.9 1250.0 1776.4 1249.3C1782.9 1248.7 1789.4 1247.9 1795.9 1247.2C1803.2 1246.4 1813.0 1245.5 1820.2 1244.8C1826.7 1244.1 1833.2 1243.6 1839.6 1242.8C1846.7 1241.9 1855.2 1240.5 1863.1 1239.5C1870.9 1238.5 1880.1 1237.6 1886.6 1236.8C1891.9 1236.1 1897.1 1235.5 1902.4 1234.6C1907.6 1233.7 1912.8 1232.6 1918.1 1231.5C1923.3 1230.4 1928.5 1229.3 1933.7 1228.1C1939.0 1226.8 1944.4 1225.5 1949.4 1224.2C1954.2 1223.0 1963.8 1220.3 1963.8 1220.3C1963.8 1220.3 1966.1 1223.8 1966.6 1225.8C1967.1 1227.9 1967.3 1230.5 1967.0 1232.8C1966.6 1235.8 1965.4 1240.2 1964.2 1243.8C1963.0 1247.4 1961.4 1251.2 1959.5 1254.7C1957.6 1258.3 1955.2 1262.4 1952.5 1265.6C1949.8 1268.9 1946.5 1271.6 1943.1 1274.2C1939.7 1276.8 1935.8 1279.2 1932.2 1281.2C1928.6 1283.2 1924.9 1285.0 1921.2 1286.5C1917.7 1288.0 1913.9 1289.1 1910.3 1290.2C1906.7 1291.2 1903.0 1292.2 1899.3 1293.0C1895.4 1293.9 1891.0 1294.7 1886.8 1295.4C1882.1 1296.1 1876.3 1296.8 1871.1 1297.3C1865.9 1297.9 1860.7 1298.2 1855.5 1298.6C1850.3 1299.0 1845.1 1299.3 1839.8 1299.6C1834.0 1300.0 1826.8 1300.6 1820.2 1301.0C1813.0 1301.4 1804.1 1301.9 1796.1 1302.2C1785.6 1302.7 1770.0 1303.3 1757.0 1303.7C1744.0 1304.1 1730.9 1304.1 1717.9 1304.6C1704.9 1305.0 1690.2 1305.7 1678.8 1306.3C1669.1 1306.8 1657.7 1307.6 1649.5 1308.2C1643.0 1308.8 1636.5 1309.6 1630.0 1310.4C1623.5 1311.2 1617.0 1312.3 1610.5 1313.1C1604.0 1314.0 1597.5 1314.8 1591.0 1315.3C1584.1 1315.8 1576.6 1316.3 1569.5 1316.3C1561.3 1316.4 1550.7 1315.9 1542.1 1315.8C1534.1 1315.7 1525.2 1315.7 1517.9 1315.7C1511.4 1315.7 1504.9 1315.7 1498.4 1315.7C1491.9 1315.7 1485.4 1315.8 1478.8 1315.7C1472.3 1315.5 1465.8 1315.1 1459.3 1314.7C1452.8 1314.3 1446.3 1313.6 1439.8 1313.3C1433.3 1313.0 1426.8 1312.8 1420.2 1312.7C1413.7 1312.6 1407.2 1312.6 1400.7 1312.7C1394.2 1312.8 1387.7 1313.1 1381.2 1313.3C1374.7 1313.6 1368.2 1313.9 1361.7 1314.3C1355.1 1314.7 1348.2 1315.1 1342.1 1315.7C1336.4 1316.2 1324.9 1317.6 1324.9 1317.6Z" fill="none" stroke="#ff0000" stroke-width="5.2" stroke-linejoin="round"/>
<path d="M1324.9 1347.5C1324.9 1347.5 1321.8 1340.1 1321.6 1336.2C1321.4 1332.0 1322.5 1327.0 1323.6 1322.5C1324.7 1317.6 1326.5 1311.8 1328.5 1306.9C1330.3 1302.1 1332.8 1297.6 1335.3 1293.2C1338.5 1287.5 1343.9 1277.6 1348.0 1272.5C1351.2 1268.5 1355.5 1265.5 1359.7 1262.7C1363.9 1260.0 1368.6 1257.7 1373.4 1255.9C1378.6 1253.9 1385.0 1252.4 1391.0 1251.0C1397.1 1249.6 1404.0 1248.2 1410.5 1247.1C1417.0 1246.0 1423.5 1245.1 1430.0 1244.2C1436.5 1243.3 1443.0 1242.5 1449.5 1241.8C1457.7 1241.0 1469.1 1239.9 1478.8 1238.9C1488.6 1237.9 1498.4 1237.0 1508.1 1236.0C1518.7 1234.9 1533.2 1233.4 1542.1 1232.6C1548.6 1232.0 1555.2 1231.5 1561.7 1231.0C1568.2 1230.5 1574.7 1230.1 1581.2 1229.6C1587.7 1229.1 1594.2 1228.6 1600.7 1228.2C1607.2 1227.8 1613.7 1227.4 1620.3 1227.0C1626.8 1226.6 1633.3 1226.3 1639.8 1226.0C1646.3 1225.7 1652.8 1225.5 1659.3 1225.2C1665.8 1224.9 1672.3 1224.5 1678.8 1224.3C1685.4 1224.1 1691.9 1223.9 1698.4 1224.1C1704.9 1224.2 1711.4 1224.8 1717.9 1225.0C1724.4 1225.2 1730.9 1225.5 1737.4 1225.4C1743.9 1225.3 1750.4 1225.0 1756.9 1224.6C1763.4 1224.1 1769.9 1223.3 1776.4 1222.6C1782.9 1221.9 1789.4 1221.1 1795.9 1220.3C1803.2 1219.4 1813.0 1218.2 1820.2 1217.2C1826.7 1216.3 1833.1 1215.3 1839.5 1214.3C1846.6 1213.3 1855.1 1212.0 1863.0 1210.8C1870.8 1209.6 1878.7 1208.5 1886.5 1207.1C1894.4 1205.8 1904.2 1204.1 1910.1 1202.8C1914.1 1201.9 1918.0 1200.3 1921.9 1199.4C1927.2 1198.2 1935.7 1196.7 1941.6 1195.5C1946.8 1194.4 1953.5 1192.9 1957.2 1192.0C1959.3 1191.5 1963.4 1190.1 1963.4 1190.1C1963.4 1190.1 1963.4 1205.5 1962.7 1211.7C1962.0 1217.0 1960.3 1222.2 1958.8 1227.3C1957.1 1232.9 1954.8 1239.7 1952.5 1245.3C1950.3 1250.7 1947.6 1256.1 1944.7 1260.9C1941.9 1265.6 1938.7 1270.2 1935.3 1274.2C1932.0 1278.1 1928.1 1281.7 1924.3 1284.8C1920.6 1287.8 1916.4 1290.5 1912.5 1292.9C1908.7 1295.2 1904.8 1297.4 1900.7 1299.3C1896.4 1301.3 1891.3 1303.2 1886.5 1304.8C1881.5 1306.5 1876.0 1308.3 1870.8 1309.6C1865.6 1310.9 1860.3 1311.7 1855.0 1312.6C1849.8 1313.5 1844.6 1313.9 1839.4 1314.8C1833.6 1315.7 1826.7 1317.1 1820.2 1318.0C1813.0 1319.1 1803.4 1320.2 1796.2 1321.1C1789.7 1321.9 1783.1 1322.5 1776.6 1323.1C1770.1 1323.7 1763.6 1324.2 1757.0 1324.7C1750.5 1325.3 1744.0 1325.8 1737.5 1326.3C1731.0 1326.8 1724.4 1327.3 1717.9 1327.8C1711.4 1328.3 1704.9 1328.8 1698.4 1329.3C1691.9 1329.9 1685.4 1330.6 1678.8 1331.3C1672.3 1331.9 1665.8 1332.5 1659.3 1333.2C1652.8 1334.0 1646.3 1334.8 1639.8 1335.8C1633.3 1336.8 1626.7 1337.9 1620.3 1339.1C1613.7 1340.3 1607.2 1341.8 1600.7 1343.1C1594.2 1344.4 1587.7 1346.0 1581.2 1347.1C1574.7 1348.2 1568.2 1349.0 1561.7 1349.7C1555.2 1350.4 1548.7 1350.9 1542.1 1351.1C1534.8 1351.4 1525.2 1351.4 1517.9 1351.4C1511.4 1351.4 1504.9 1351.2 1498.4 1351.0C1491.9 1350.9 1485.4 1350.6 1478.8 1350.4C1472.3 1350.2 1465.8 1350.1 1459.3 1349.8C1452.8 1349.6 1446.3 1349.2 1439.8 1348.9C1433.3 1348.5 1426.8 1348.2 1420.2 1347.9C1413.7 1347.6 1407.2 1347.2 1400.7 1346.9C1394.2 1346.6 1387.7 1346.1 1381.2 1345.9C1374.7 1345.8 1368.2 1345.8 1361.7 1345.9C1355.1 1346.0 1348.2 1346.3 1342.1 1346.5C1336.4 1346.8 1324.9 1347.5 1324.9 1347.5Z" fill="none" stroke="#c070e8" stroke-width="4.9" stroke-linejoin="round"/>
<path d="M1324.9 1405.5C1324.9 1405.5 1321.8 1400.5 1321.6 1397.7C1321.4 1393.6 1322.7 1386.6 1323.6 1381.1C1324.5 1374.7 1325.9 1366.7 1327.5 1359.6C1329.1 1352.1 1331.2 1343.7 1333.3 1336.2C1335.4 1328.9 1337.7 1321.2 1340.2 1314.7C1342.4 1308.7 1345.1 1302.5 1348.0 1297.1C1350.8 1291.9 1354.5 1287.0 1357.8 1282.3C1360.9 1277.6 1364.1 1273.0 1367.5 1268.6C1371.1 1264.0 1375.0 1259.2 1379.2 1254.9C1383.5 1250.7 1388.1 1246.8 1392.9 1243.2C1397.8 1239.6 1403.3 1236.5 1408.5 1233.4C1413.7 1230.4 1418.9 1227.3 1424.2 1224.6C1429.2 1222.1 1434.4 1219.7 1439.8 1217.8C1445.6 1215.7 1452.8 1213.7 1459.3 1212.0C1465.8 1210.2 1472.3 1208.9 1478.8 1207.5C1485.3 1206.0 1491.9 1204.5 1498.4 1203.2C1504.9 1201.8 1511.4 1200.6 1517.9 1199.3C1525.2 1197.8 1534.6 1195.9 1541.9 1194.5C1548.4 1193.2 1554.9 1191.8 1561.4 1190.7C1567.9 1189.6 1574.5 1188.7 1581.0 1187.8C1587.6 1186.9 1594.1 1186.0 1600.7 1185.3C1607.2 1184.5 1613.7 1183.7 1620.2 1183.0C1626.7 1182.3 1633.3 1181.6 1639.8 1181.1C1646.3 1180.5 1652.8 1180.2 1659.3 1179.7C1665.8 1179.3 1672.3 1178.8 1678.8 1178.4C1685.4 1177.9 1691.9 1177.5 1698.4 1177.2C1704.9 1176.9 1711.4 1176.6 1717.9 1176.4C1724.4 1176.1 1730.9 1175.9 1737.4 1175.7C1743.9 1175.4 1750.4 1175.2 1756.9 1174.9C1763.4 1174.7 1770.0 1174.4 1776.5 1174.0C1783.0 1173.6 1789.5 1173.1 1796.0 1172.4C1803.3 1171.6 1813.0 1170.4 1820.2 1169.4C1826.7 1168.5 1833.1 1167.6 1839.6 1166.5C1846.7 1165.3 1855.2 1163.7 1863.0 1162.1C1870.9 1160.5 1878.7 1158.6 1886.6 1156.9C1894.4 1155.2 1902.4 1153.8 1910.2 1151.9C1918.0 1150.0 1927.2 1147.1 1933.7 1145.2C1938.9 1143.7 1944.3 1142.1 1949.4 1140.4C1954.2 1138.8 1963.8 1135.0 1963.8 1135.0C1963.8 1135.0 1965.7 1140.7 1965.8 1143.6C1965.8 1147.4 1965.1 1153.0 1964.2 1157.7C1963.3 1162.6 1961.9 1168.1 1960.3 1173.3C1958.8 1178.5 1956.8 1183.8 1954.8 1188.9C1952.1 1196.0 1946.8 1208.6 1943.9 1215.6C1941.8 1220.8 1939.9 1226.1 1937.7 1231.2C1935.3 1236.7 1932.6 1242.6 1929.7 1248.1C1926.7 1253.7 1923.4 1259.3 1919.9 1264.6C1916.4 1269.9 1912.4 1275.3 1908.5 1280.1C1904.7 1284.7 1900.4 1289.3 1896.3 1293.3C1892.5 1297.2 1888.4 1300.9 1884.3 1304.4C1880.2 1307.9 1875.0 1311.5 1871.6 1314.2C1868.9 1316.2 1866.5 1318.6 1863.7 1320.4C1860.5 1322.4 1856.3 1324.5 1852.5 1326.4C1848.0 1328.6 1842.2 1331.4 1836.9 1333.6C1831.3 1335.9 1825.2 1338.1 1819.3 1340.1C1812.6 1342.4 1803.7 1345.2 1796.6 1347.3C1790.1 1349.2 1783.6 1350.9 1777.0 1352.5C1770.5 1354.0 1763.9 1355.3 1757.3 1356.5C1750.8 1357.7 1744.2 1358.8 1737.6 1359.8C1731.0 1360.9 1724.5 1361.9 1717.9 1363.0C1711.4 1364.1 1704.9 1365.3 1698.4 1366.4C1691.9 1367.6 1685.3 1368.6 1678.8 1369.8C1672.3 1370.9 1665.8 1372.1 1659.3 1373.3C1652.8 1374.4 1646.3 1375.5 1639.8 1376.6C1633.3 1377.7 1626.7 1378.7 1620.3 1380.1C1613.7 1381.5 1607.2 1383.3 1600.7 1385.1C1594.2 1386.9 1587.7 1388.8 1581.2 1390.7C1574.7 1392.6 1568.2 1394.7 1561.7 1396.5C1555.3 1398.2 1548.7 1399.8 1542.2 1401.4C1534.9 1403.1 1525.2 1405.5 1517.9 1406.9C1511.4 1408.1 1504.9 1408.8 1498.4 1409.4C1491.9 1410.1 1485.4 1410.6 1478.8 1410.8C1472.3 1411.0 1465.8 1410.9 1459.3 1410.8C1452.8 1410.7 1446.3 1410.3 1439.8 1410.0C1433.3 1409.7 1426.8 1409.2 1420.2 1408.8C1413.7 1408.5 1407.2 1408.2 1400.7 1407.9C1394.2 1407.5 1387.7 1407.2 1381.2 1406.9C1374.7 1406.6 1368.2 1406.3 1361.7 1406.1C1355.1 1405.9 1348.2 1405.6 1342.1 1405.5C1336.4 1405.4 1324.9 1405.5 1324.9 1405.5Z" fill="none" stroke="#d89600" stroke-width="4.3" stroke-linejoin="round"/>
<path d="M1324.9 1460.6C1324.9 1460.6 1321.8 1455.3 1321.6 1452.4C1321.4 1448.2 1322.7 1441.3 1323.6 1435.8C1324.5 1429.4 1326.0 1421.4 1327.5 1414.3C1328.9 1407.1 1330.6 1399.9 1332.4 1392.8C1334.1 1385.7 1336.2 1378.5 1338.2 1371.3C1340.3 1363.8 1342.6 1355.4 1345.1 1347.9C1347.4 1340.6 1350.1 1333.2 1352.9 1326.4C1355.5 1319.8 1358.6 1313.3 1361.7 1306.9C1364.7 1300.4 1368.8 1292.4 1371.4 1287.3C1373.3 1283.7 1375.2 1280.0 1377.3 1276.4C1380.2 1271.3 1384.8 1263.1 1389.0 1256.9C1393.2 1250.7 1397.8 1244.8 1402.7 1239.3C1407.5 1233.8 1413.1 1228.4 1418.3 1223.7C1423.3 1219.2 1428.7 1214.7 1433.9 1211.0C1438.9 1207.4 1444.3 1204.1 1449.5 1201.2C1454.6 1198.4 1459.9 1195.9 1465.2 1193.4C1470.7 1190.8 1476.8 1187.9 1482.8 1185.6C1488.9 1183.1 1495.8 1181.0 1502.3 1178.8C1508.8 1176.5 1515.3 1174.0 1521.8 1171.9C1528.5 1169.7 1535.9 1167.7 1542.6 1165.7C1549.1 1163.7 1555.6 1161.6 1562.1 1159.6C1568.5 1157.7 1575.0 1155.8 1581.5 1153.9C1587.9 1152.0 1594.4 1150.0 1600.8 1148.3C1607.3 1146.6 1613.8 1145.0 1620.3 1143.6C1626.7 1142.3 1633.3 1141.1 1639.8 1140.1C1646.3 1139.1 1652.8 1138.4 1659.3 1137.7C1665.8 1137.1 1672.3 1136.8 1678.8 1136.4C1685.4 1135.9 1691.9 1135.6 1698.4 1135.2C1704.9 1134.8 1711.4 1134.5 1717.9 1134.2C1724.4 1133.8 1730.9 1133.5 1737.4 1133.1C1743.9 1132.6 1750.4 1132.2 1756.9 1131.6C1763.4 1131.1 1769.9 1130.4 1776.4 1129.7C1782.9 1129.0 1789.4 1128.4 1795.9 1127.6C1803.2 1126.6 1813.0 1125.2 1820.2 1124.1C1826.6 1123.1 1832.8 1121.9 1839.1 1120.7C1846.2 1119.3 1854.8 1117.2 1862.6 1115.6C1870.5 1114.0 1878.4 1112.6 1886.2 1111.0C1894.1 1109.4 1902.0 1107.9 1909.9 1106.0C1917.7 1104.0 1927.0 1101.3 1933.5 1099.4C1938.8 1097.8 1944.2 1096.3 1949.3 1094.6C1954.2 1092.9 1963.8 1089.1 1963.8 1089.1C1963.8 1089.1 1965.7 1094.6 1965.8 1097.5C1965.8 1101.1 1964.9 1106.4 1964.2 1110.8C1963.4 1115.6 1962.2 1121.2 1961.1 1126.4C1959.8 1132.3 1958.2 1139.5 1956.4 1145.9C1954.6 1152.4 1952.4 1159.0 1950.2 1165.5C1947.9 1172.0 1945.5 1178.5 1943.1 1185.0C1940.0 1193.4 1934.5 1207.7 1931.4 1215.6C1929.1 1221.4 1926.9 1227.1 1924.3 1232.8C1921.7 1238.6 1918.6 1244.7 1915.6 1250.5C1912.5 1256.2 1909.2 1261.8 1905.9 1267.3C1902.5 1272.7 1899.1 1278.0 1895.3 1283.2C1891.6 1288.3 1887.5 1293.4 1883.2 1298.3C1878.9 1303.2 1874.3 1308.1 1869.6 1312.6C1865.0 1317.1 1859.8 1321.5 1855.3 1325.6C1851.1 1329.5 1847.3 1333.9 1842.7 1337.4C1837.2 1341.6 1828.2 1347.1 1822.2 1350.8C1817.1 1354.0 1810.7 1357.4 1806.6 1359.6C1803.7 1361.2 1800.8 1362.7 1797.8 1364.0C1793.0 1366.1 1784.6 1369.6 1778.0 1372.0C1771.4 1374.3 1764.6 1376.3 1758.0 1378.2C1751.3 1380.1 1744.5 1381.7 1737.9 1383.5C1731.2 1385.3 1724.5 1387.2 1718.0 1389.0C1711.4 1390.8 1704.9 1392.7 1698.4 1394.4C1691.9 1396.0 1685.3 1397.4 1678.8 1399.1C1672.3 1400.7 1665.8 1402.5 1659.3 1404.1C1652.8 1405.8 1646.3 1407.2 1639.8 1408.8C1633.3 1410.4 1626.7 1412.0 1620.2 1413.6C1613.7 1415.2 1607.0 1416.8 1600.5 1418.6C1593.9 1420.3 1587.3 1422.3 1580.7 1424.3C1574.1 1426.2 1567.5 1428.1 1560.9 1430.2C1554.4 1432.4 1547.9 1435.0 1541.3 1437.4C1534.1 1439.9 1525.1 1443.2 1517.9 1445.5C1511.4 1447.7 1504.9 1449.6 1498.4 1451.4C1491.9 1453.2 1485.4 1454.8 1478.8 1456.3C1472.4 1457.7 1465.8 1459.2 1459.3 1460.2C1452.8 1461.2 1446.3 1461.7 1439.8 1462.1C1433.3 1462.6 1426.8 1462.6 1420.2 1462.7C1413.7 1462.8 1407.2 1462.8 1400.7 1462.7C1394.2 1462.6 1387.7 1462.4 1381.2 1462.1C1374.7 1461.9 1368.2 1461.4 1361.7 1461.2C1355.1 1460.9 1348.2 1460.7 1342.1 1460.6C1336.4 1460.5 1324.9 1460.6 1324.9 1460.6Z" fill="none" stroke="#00c8d0" stroke-width="5.0" stroke-linejoin="round"/>
<path d="M1324.9 1512.5C1324.9 1512.5 1321.8 1507.1 1321.6 1504.1C1321.4 1499.8 1322.8 1492.4 1323.6 1486.6C1324.5 1479.4 1326.0 1469.6 1327.5 1461.2C1328.9 1452.7 1330.6 1444.2 1332.4 1435.8C1334.1 1427.3 1336.1 1418.8 1338.2 1410.4C1340.3 1401.9 1342.6 1393.4 1345.1 1385.0C1347.5 1376.5 1350.1 1367.7 1352.9 1359.6C1355.6 1351.7 1358.6 1343.9 1361.7 1336.2C1364.7 1328.4 1368.0 1320.5 1371.4 1312.7C1375.0 1304.6 1379.6 1294.7 1383.1 1287.3C1386.2 1281.0 1389.5 1274.8 1392.9 1268.6C1396.8 1261.6 1401.7 1252.6 1406.6 1245.2C1411.4 1237.7 1417.0 1230.0 1422.2 1223.7C1427.0 1217.8 1432.6 1212.1 1437.8 1207.1C1442.8 1202.3 1448.2 1197.6 1453.5 1193.4C1458.5 1189.3 1463.9 1185.4 1469.1 1181.7C1474.2 1178.0 1479.3 1174.3 1484.7 1170.9C1490.2 1167.5 1496.3 1164.2 1502.3 1161.2C1508.5 1158.1 1515.3 1155.3 1521.8 1152.4C1528.5 1149.4 1536.0 1146.0 1542.7 1143.1C1549.2 1140.2 1555.7 1137.4 1562.1 1134.7C1568.6 1132.0 1575.1 1129.3 1581.5 1126.8C1587.9 1124.3 1594.4 1121.7 1600.8 1119.5C1607.3 1117.3 1613.8 1115.3 1620.3 1113.4C1626.7 1111.4 1633.3 1109.5 1639.8 1107.9C1646.2 1106.2 1652.8 1104.8 1659.3 1103.6C1665.8 1102.3 1672.3 1101.1 1678.8 1100.2C1685.3 1099.3 1691.9 1098.7 1698.4 1098.1C1704.9 1097.5 1711.4 1097.1 1717.9 1096.6C1724.4 1096.1 1730.9 1095.5 1737.3 1095.0C1743.8 1094.4 1750.3 1093.8 1756.8 1093.2C1763.2 1092.5 1769.7 1091.8 1776.2 1091.0C1782.7 1090.3 1789.2 1089.5 1795.7 1088.6C1803.0 1087.6 1813.0 1086.2 1820.2 1085.0C1826.6 1083.9 1832.9 1082.3 1839.2 1081.2C1846.4 1080.0 1855.2 1079.0 1863.1 1077.6C1871.1 1076.3 1879.0 1075.0 1886.9 1073.3C1894.7 1071.6 1902.5 1069.5 1910.3 1067.4C1918.1 1065.4 1928.5 1062.5 1933.7 1060.9C1936.3 1060.1 1938.9 1059.3 1941.4 1058.2C1944.0 1057.1 1946.3 1055.5 1948.8 1054.2C1951.2 1052.9 1953.8 1051.3 1956.3 1050.5C1958.7 1049.8 1963.8 1049.8 1963.8 1049.8C1963.8 1049.8 1965.7 1056.5 1965.5 1059.9C1965.3 1064.8 1963.6 1072.9 1962.5 1079.4C1961.4 1086.0 1960.1 1092.5 1958.8 1099.0C1957.3 1106.2 1955.6 1114.7 1953.7 1122.5C1951.7 1130.3 1949.3 1138.1 1946.9 1145.9C1944.5 1153.7 1941.9 1162.2 1939.2 1169.4C1936.7 1176.0 1933.1 1182.2 1930.6 1188.9C1927.5 1197.3 1923.3 1211.8 1920.5 1219.5C1918.5 1224.9 1915.7 1229.9 1913.4 1235.2C1911.0 1240.8 1908.4 1247.3 1905.6 1253.1C1902.9 1258.9 1900.1 1264.7 1897.1 1270.4C1894.0 1276.1 1890.6 1282.0 1887.0 1287.7C1883.4 1293.3 1879.6 1298.9 1875.4 1304.2C1871.3 1309.4 1866.8 1314.3 1862.3 1319.2C1857.8 1324.0 1851.9 1329.8 1848.3 1333.3C1845.8 1335.8 1843.2 1338.2 1840.5 1340.5C1836.1 1344.3 1827.9 1351.4 1822.2 1355.7C1817.2 1359.5 1811.1 1363.5 1806.6 1366.4C1802.9 1368.9 1799.1 1371.3 1795.2 1373.5C1790.1 1376.6 1782.3 1381.3 1775.8 1384.9C1769.4 1388.4 1762.9 1391.8 1756.5 1395.0C1750.2 1398.2 1743.7 1401.3 1737.2 1404.2C1730.9 1407.1 1724.4 1409.7 1717.9 1412.3C1711.4 1414.9 1704.9 1417.4 1698.4 1419.8C1691.9 1422.1 1685.4 1424.2 1678.8 1426.4C1672.3 1428.6 1665.8 1430.7 1659.3 1432.9C1652.8 1435.0 1646.3 1437.2 1639.8 1439.3C1633.3 1441.4 1626.7 1443.4 1620.2 1445.4C1613.7 1447.5 1607.0 1449.6 1600.5 1451.7C1593.9 1453.8 1587.2 1455.9 1580.6 1458.2C1574.0 1460.4 1567.3 1462.8 1560.8 1465.3C1554.2 1467.8 1547.7 1470.6 1541.1 1473.4C1534.0 1476.3 1525.0 1480.2 1517.9 1483.0C1511.4 1485.6 1504.9 1488.2 1498.4 1490.5C1491.9 1492.7 1485.4 1494.8 1478.8 1496.7C1472.4 1498.6 1465.8 1500.2 1459.3 1501.8C1452.8 1503.4 1446.3 1504.9 1439.8 1506.1C1433.3 1507.3 1426.8 1508.2 1420.2 1509.0C1413.8 1509.8 1407.2 1510.5 1400.7 1511.0C1394.2 1511.5 1387.7 1511.7 1381.2 1512.0C1374.7 1512.2 1368.2 1512.3 1361.7 1512.3C1355.1 1512.4 1348.2 1512.3 1342.1 1512.3C1336.4 1512.4 1324.9 1512.5 1324.9 1512.5Z" fill="none" stroke="#804848" stroke-width="4.3" stroke-linejoin="round"/>
<path d="M1324.9 1560.8C1324.9 1560.8 1321.8 1555.8 1321.6 1553.0C1321.4 1548.4 1322.8 1539.9 1323.6 1533.4C1324.5 1525.3 1326.1 1513.9 1327.5 1504.1C1328.9 1494.0 1330.6 1483.3 1332.4 1472.9C1334.1 1462.5 1336.1 1451.7 1338.2 1441.6C1340.3 1431.8 1342.6 1422.1 1345.1 1412.3C1347.5 1402.6 1350.1 1392.5 1352.9 1383.0C1355.6 1373.9 1358.5 1364.8 1361.7 1355.7C1364.9 1346.3 1368.5 1336.1 1372.4 1326.4C1376.3 1316.6 1380.2 1306.5 1385.1 1297.1C1390.5 1286.8 1399.1 1274.3 1404.6 1264.7C1409.4 1256.4 1413.4 1247.4 1418.3 1239.3C1423.1 1231.2 1428.7 1222.9 1433.9 1215.9C1438.7 1209.4 1444.3 1203.0 1449.5 1197.3C1454.5 1191.9 1460.0 1186.6 1465.2 1181.7C1470.2 1176.9 1475.5 1172.4 1480.8 1168.0C1486.3 1163.5 1492.3 1158.6 1498.4 1154.3C1504.6 1149.9 1511.3 1145.7 1517.9 1141.6C1525.2 1137.1 1535.0 1131.5 1542.3 1127.3C1548.7 1123.6 1555.3 1119.9 1561.8 1116.5C1568.2 1113.1 1574.8 1109.8 1581.3 1106.6C1587.7 1103.5 1594.3 1100.6 1600.8 1097.8C1607.2 1094.9 1613.7 1092.0 1620.3 1089.3C1626.7 1086.6 1633.3 1083.9 1639.8 1081.5C1646.2 1079.1 1652.8 1076.9 1659.3 1074.8C1665.8 1072.8 1672.3 1070.6 1678.8 1069.0C1685.3 1067.4 1691.9 1066.2 1698.4 1065.1C1704.9 1064.0 1711.4 1063.2 1717.9 1062.5C1724.4 1061.7 1730.9 1061.3 1737.4 1060.7C1743.9 1060.1 1750.4 1059.6 1756.9 1059.0C1763.4 1058.4 1769.9 1057.6 1776.4 1056.8C1782.9 1056.0 1789.4 1055.2 1795.9 1054.3C1803.2 1053.3 1812.9 1052.1 1820.2 1050.8C1826.8 1049.7 1833.3 1048.3 1839.8 1046.9C1846.3 1045.5 1852.8 1044.1 1859.3 1042.6C1865.8 1041.1 1872.4 1039.5 1878.8 1037.7C1885.4 1036.0 1891.9 1034.2 1898.4 1032.3C1904.9 1030.3 1911.4 1028.1 1917.9 1026.0C1924.4 1023.9 1931.6 1021.5 1937.4 1019.6C1942.7 1017.8 1948.8 1015.8 1953.1 1014.3C1956.3 1013.2 1962.8 1010.8 1962.8 1010.8C1962.8 1010.8 1965.7 1015.8 1965.8 1018.6C1965.9 1023.8 1964.6 1035.1 1963.8 1042.0C1963.1 1048.2 1962.1 1054.4 1960.9 1060.5C1959.6 1067.4 1957.8 1076.1 1955.9 1083.8C1954.0 1091.6 1951.8 1099.4 1949.5 1107.1C1947.3 1114.9 1944.8 1122.7 1942.3 1130.4C1939.8 1138.2 1937.2 1146.0 1934.6 1153.8C1932.0 1161.6 1929.6 1169.5 1926.7 1177.2C1922.7 1188.1 1914.3 1209.2 1910.3 1219.5C1907.8 1226.1 1905.2 1232.6 1902.5 1239.1C1899.8 1245.6 1896.9 1252.1 1893.9 1258.6C1890.9 1265.1 1887.7 1271.6 1884.4 1278.0C1881.1 1284.5 1877.7 1291.6 1874.1 1297.4C1870.8 1302.8 1866.9 1307.9 1863.0 1312.8C1858.9 1318.0 1853.5 1324.1 1849.6 1328.4C1846.4 1331.9 1842.7 1335.2 1839.4 1338.5C1836.3 1341.6 1833.2 1344.8 1830.0 1347.9C1826.2 1351.7 1820.8 1357.4 1816.3 1361.6C1812.1 1365.6 1807.8 1369.6 1803.1 1373.2C1797.5 1377.4 1789.6 1382.8 1782.5 1387.0C1775.5 1391.1 1768.0 1394.6 1760.7 1398.1C1753.6 1401.5 1746.0 1404.5 1738.9 1407.8C1731.9 1411.0 1724.8 1414.5 1718.0 1417.9C1711.4 1421.3 1704.9 1425.0 1698.4 1428.4C1691.9 1431.7 1685.4 1434.9 1678.8 1438.1C1672.4 1441.3 1665.8 1444.5 1659.3 1447.5C1652.8 1450.5 1646.3 1453.4 1639.8 1456.3C1633.3 1459.2 1626.8 1462.2 1620.3 1465.1C1613.8 1467.9 1607.2 1470.4 1600.7 1473.3C1594.2 1476.2 1587.7 1479.5 1581.2 1482.7C1574.7 1485.9 1568.1 1489.1 1561.7 1492.5C1555.2 1495.9 1548.7 1499.7 1542.1 1503.2C1534.9 1507.1 1525.2 1512.2 1517.9 1515.9C1511.5 1519.1 1504.9 1522.4 1498.4 1525.2C1492.0 1528.0 1485.4 1530.4 1478.8 1532.9C1472.4 1535.2 1465.8 1537.6 1459.3 1539.7C1452.8 1541.8 1446.3 1543.8 1439.8 1545.5C1433.3 1547.3 1426.8 1548.7 1420.2 1550.0C1413.8 1551.3 1407.2 1552.4 1400.7 1553.4C1394.2 1554.3 1387.7 1555.1 1381.2 1555.9C1374.7 1556.6 1368.2 1557.3 1361.7 1557.9C1355.2 1558.4 1348.2 1558.9 1342.1 1559.4C1336.4 1559.9 1324.9 1560.8 1324.9 1560.8Z" fill="none" stroke="#ff6600" stroke-width="4.6" stroke-linejoin="round"/>
<path d="M1303.1 1266.6L1303.1 1116.2" stroke="#000" stroke-width="3.5" fill="none"/>
<path d="M1303.1 1077.2L1295.1 1127.6L1303.1 1116.2L1311.1 1127.6Z" fill="#000"/>
<text transform="translate(1557.5 1014.7) scale(0.7880 1)" font-size="53.8" text-anchor="start" fill="#000" stroke="#000" stroke-width="0.90" vector-effect="non-scaling-stroke">FE-HS_1100</text>
<text transform="translate(1288.4 1072.9) scale(0.7880 1)" font-size="53.8" text-anchor="start" fill="#ff6600" stroke="#ff6600" stroke-width="0.90" vector-effect="non-scaling-stroke">50 mV s<tspan font-size="34.4" dy="-21.5"> -1</tspan></text>
<text transform="translate(1287.5 1315.7) scale(0.7880 1)" font-size="53.8" text-anchor="start" fill="#ff0000" stroke="#ff0000" stroke-width="0.90" vector-effect="non-scaling-stroke">5</text>
<text transform="translate(1106.3 1420.0) rotate(-90) scale(0.7790 1)" font-size="72.5" text-anchor="start" fill="#000" stroke="#000" stroke-width="0.90" vector-effect="non-scaling-stroke">Current (A)</text>
</svg>
</body></html>
